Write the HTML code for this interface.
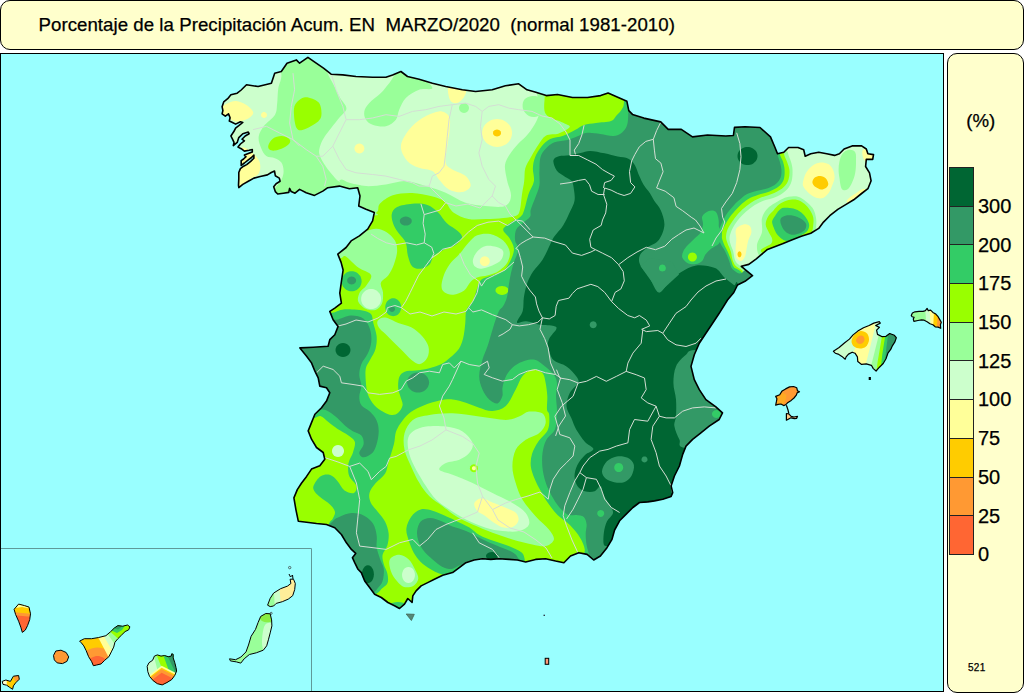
<!DOCTYPE html>
<html><head><meta charset="utf-8"><title>Mapa</title>
<style>
html,body{margin:0;padding:0;background:#fff;}
body{width:1024px;height:693px;overflow:hidden;position:relative;font-family:"Liberation Sans",sans-serif;color:#000;-webkit-text-stroke:0.25px #000;}
.box{position:absolute;box-sizing:border-box;background:#FFFFCC;border:1px solid #000;border-radius:10px;}
#title{left:0;top:0;width:1024px;height:50px;}
#title span{position:absolute;left:37.5px;top:13px;font-size:18.67px;line-height:21px;white-space:pre;letter-spacing:0.04px;}
#legend{left:947px;top:53px;width:77px;height:640px;}
#map{position:absolute;left:0;top:53px;width:944px;height:639px;box-sizing:border-box;border:1px solid #000;background:#99FFFF;overflow:hidden;}
#map svg{position:absolute;left:-1px;top:-54px;}
.lab{position:absolute;left:978px;font-size:20px;line-height:20px;}
#pct{position:absolute;left:966.3px;top:109.8px;font-size:18.67px;line-height:21px;}
#num{position:absolute;left:968px;top:662px;font-size:10px;line-height:12px;letter-spacing:0.3px;}
.sw{position:absolute;left:949px;width:25px;box-sizing:border-box;border:1px solid #222;border-bottom:none;}
</style></head><body>

<div class="box" id="title"><span>Porcentaje de la Precipitación Acum. EN  MARZO/2020  (normal 1981-2010)</span></div>
<div id="map"><svg width="1024" height="693" viewBox="0 0 1024 693">
<defs><clipPath id="sp"><path d="M246.5,84.8 L258.1,86.5 L271.4,83.2 L274.7,73.2 L281.3,71.5 L287.0,63.2 L296.3,59.9 L299.6,63.2 L307.9,57.3 L316.2,63.2 L323.5,68.2 L331.1,74.2 L342.8,74.9 L356.0,76.5 L372.6,77.2 L385.9,77.2 L392.6,74.9 L400.9,71.5 L407.5,76.5 L419.1,79.2 L432.4,83.2 L445.7,86.5 L462.3,89.8 L475.6,91.5 L492.2,89.8 L505.4,85.8 L518.7,83.8 L527.0,89.8 L535.0,91.9 L546.3,95.6 L557.5,94.5 L572.5,97.5 L587.5,97.5 L600.6,95.6 L608.1,93.0 L618.3,97.5 L626.9,101.3 L628.8,110.6 L632.5,114.4 L643.8,118.1 L660.7,121.9 L668.2,129.4 L681.3,129.4 L692.5,136.9 L707.5,135.0 L725.8,136.0 L733.4,135.5 L734.5,127.4 L745.0,126.8 L760.0,127.5 L770.5,136.9 L775.0,147.5 L777.5,153.8 L783.8,152.2 L788.6,147.5 L798.0,147.5 L803.7,149.8 L805.2,156.2 L810.8,153.8 L818.7,152.2 L826.7,153.8 L834.6,155.4 L839.4,153.8 L844.1,149.0 L852.1,145.9 L861.6,145.9 L866.3,149.0 L867.9,153.8 L873.5,154.6 L872.7,159.4 L866.3,159.4 L865.6,166.5 L869.5,172.9 L871.1,180.8 L867.9,188.7 L861.6,193.5 L853.7,199.8 L845.7,204.6 L837.8,209.4 L829.8,215.7 L823.5,222.1 L818.7,228.4 L810.8,233.2 L801.3,236.3 L791.7,240.0 L782.5,243.8 L767.5,249.4 L756.3,258.8 L748.8,264.4 L741.3,266.3 L752.5,275.7 L745.0,281.3 L737.5,285.0 L733.8,292.5 L727.5,300.0 L719.2,313.3 L712.6,323.2 L705.9,333.2 L699.3,343.2 L694.3,354.8 L691.0,366.4 L694.3,379.7 L699.3,389.6 L705.9,399.6 L715.9,406.9 L722.5,412.9 L719.2,419.5 L709.2,426.2 L700.9,432.8 L692.6,439.4 L686.0,446.1 L682.7,454.4 L679.4,466.0 L674.4,476.0 L671.1,485.9 L672.7,492.6 L671.1,496.5 L662.8,499.2 L654.5,500.9 L647.8,501.9 L639.5,502.5 L632.9,507.5 L626.2,514.1 L619.6,520.8 L614.6,530.0 L612.0,539.4 L607.0,547.7 L600.4,556.0 L593.7,560.0 L587.1,554.4 L578.8,552.7 L570.5,556.0 L563.9,562.7 L555.6,561.0 L545.6,558.7 L535.6,559.4 L525.7,562.0 L517.4,560.0 L509.1,559.4 L499.1,558.7 L490.8,559.4 L482.5,558.7 L474.2,560.0 L465.9,562.7 L459.3,567.7 L452.6,572.6 L442.7,575.3 L434.4,579.3 L427.7,582.6 L421.1,585.9 L416.1,590.9 L412.8,595.9 L412.1,602.5 L407.8,598.5 L404.5,604.2 L399.5,608.5 L394.5,605.8 L387.9,602.5 L381.3,597.5 L374.6,594.2 L369.6,587.6 L364.7,581.0 L361.3,572.6 L358.0,569.3 L354.7,562.7 L352.4,557.7 L355.7,553.4 L351.4,549.4 L346.4,542.8 L341.4,534.5 L334.8,527.8 L326.5,524.5 L316.5,523.5 L306.6,522.2 L298.3,521.2 L295.9,509.6 L293.9,497.9 L297.3,489.6 L301.6,483.0 L306.6,476.4 L311.5,469.1 L319.8,465.8 L324.8,459.2 L323.2,452.5 L316.5,447.5 L311.5,439.2 L308.2,430.9 L311.5,422.6 L314.9,414.3 L321.5,407.7 L326.5,401.1 L329.8,392.8 L326.5,387.8 L319.8,386.1 L318.2,377.8 L314.9,371.2 L311.5,362.9 L306.6,356.2 L299.9,347.9 L313.2,347.3 L328.1,346.3 L329.8,339.6 L334.8,334.7 L338.1,326.4 L333.1,319.7 L329.8,311.4 L334.8,308.1 L341.4,303.1 L339.8,293.2 L341.4,281.5 L343.1,270.0 L341.1,262.4 L337.8,254.1 L346.1,247.5 L351.1,240.9 L359.4,235.9 L367.7,229.2 L372.6,220.9 L374.3,212.6 L366.0,209.3 L358.7,206.0 L360.0,196.0 L357.7,187.7 L349.4,188.7 L339.4,186.1 L327.8,187.7 L322.8,191.1 L314.5,195.4 L306.2,192.7 L299.6,189.4 L295.0,193.2 L291.2,191.6 L289.6,188.4 L288.8,192.4 L283.3,193.2 L277.7,194.0 L275.3,191.6 L273.7,186.8 L276.1,183.7 L280.1,181.3 L279.3,178.1 L275.3,175.7 L274.5,171.0 L271.3,172.5 L267.4,174.9 L260.2,176.5 L253.9,178.1 L248.3,181.3 L242.8,184.4 L238.8,187.6 L238.5,185.2 L238.8,178.9 L238.8,172.5 L240.4,168.6 L243.6,166.2 L246.7,164.6 L250.7,161.4 L253.9,158.3 L253.9,155.1 L251.5,157.5 L248.3,159.8 L244.4,163.0 L241.2,165.4 L241.2,160.6 L243.6,159.0 L246.0,156.7 L244.4,155.1 L248.3,153.5 L252.3,151.9 L252.3,149.5 L249.1,150.3 L244.4,151.1 L241.2,148.7 L238.0,147.1 L240.4,144.0 L244.4,140.8 L242.0,139.2 L245.2,136.0 L249.1,133.7 L248.3,132.1 L242.8,133.7 L238.8,137.6 L237.2,142.4 L233.3,145.6 L234.0,142.4 L232.5,139.2 L230.9,136.0 L234.0,131.3 L235.6,128.1 L238.8,125.7 L242.8,122.5 L240.4,121.7 L235.6,124.1 L232.5,122.5 L229.3,121.0 L230.1,117.8 L228.5,113.8 L225.3,116.2 L222.1,113.8 L222.9,110.6 L222.1,106.7 L223.7,101.9 L227.7,98.7 L230.9,94.8 L237.2,93.2 L241.2,90.0Z"/></clipPath></defs>
<g clip-path="url(#sp)">
<rect x="200" y="50" width="700" height="570" fill="#33CC66"/>
<path d="M624.0,60.0 C624.0,68.3 624.3,91.8 624.0,100.0 C623.7,108.2 623.2,106.4 622.0,109.0 C620.8,111.6 618.3,113.5 616.5,115.5 C614.7,117.5 614.4,119.8 611.0,121.0 C607.6,122.2 600.5,122.3 596.0,123.0 C591.5,123.7 587.5,123.8 584.0,125.0 C580.5,126.2 578.5,128.2 575.0,130.0 C571.5,131.8 567.3,134.3 563.2,135.8 C559.1,137.3 553.8,137.2 550.2,139.0 C546.6,140.8 544.0,143.5 541.5,146.6 C539.0,149.7 536.4,153.8 535.0,157.4 C533.6,161.0 533.1,164.2 532.9,168.2 C532.7,172.2 534.6,176.9 533.9,181.2 C533.2,185.5 530.1,189.4 528.5,194.2 C526.9,199.0 525.5,206.2 524.2,210.0 C522.9,213.8 522.9,214.6 520.5,216.8 C518.1,219.0 512.6,221.1 509.7,223.3 C506.8,225.5 503.2,227.3 503.2,229.8 C503.2,232.3 507.9,235.2 509.7,238.4 C511.5,241.7 514.0,245.3 514.0,249.3 C514.0,253.3 511.5,258.7 509.7,262.3 C507.9,265.9 506.1,268.8 503.2,270.9 C500.3,273.0 495.9,273.8 492.3,275.2 C488.7,276.6 484.0,277.4 481.5,279.6 C479.0,281.8 478.6,284.6 477.2,288.2 C475.8,291.8 474.7,297.6 472.9,301.2 C471.1,304.8 467.7,306.3 466.4,309.9 C465.1,313.5 465.8,318.3 465.3,323.0 C464.8,327.7 464.3,333.8 463.2,338.1 C462.1,342.4 461.0,345.8 458.8,349.0 C456.6,352.2 453.1,355.1 450.2,357.6 C447.3,360.1 445.1,362.3 441.5,364.1 C437.9,365.9 432.8,367.3 428.5,368.4 C424.2,369.5 419.5,370.1 415.5,370.6 C411.5,371.2 407.4,370.6 404.7,371.7 C402.0,372.8 400.4,374.4 399.3,377.1 C398.2,379.8 398.0,384.6 398.2,387.9 C398.4,391.1 399.7,393.7 400.4,396.6 C401.1,399.5 403.0,402.5 402.6,405.2 C402.2,407.9 400.0,411.2 398.2,412.8 C396.4,414.4 394.2,415.2 391.7,415.0 C389.2,414.8 386.0,413.3 383.1,411.7 C380.2,410.1 376.9,408.1 374.4,405.2 C371.9,402.3 369.3,398.4 367.9,394.4 C366.5,390.4 366.1,385.7 365.8,381.4 C365.5,377.1 365.1,372.0 365.8,368.4 C366.5,364.8 368.5,363.0 370.1,359.8 C371.7,356.6 374.4,353.0 375.5,349.0 C376.6,345.0 377.0,340.3 376.6,336.0 C376.2,331.7 374.2,326.7 373.3,323.0 C372.4,319.3 372.8,316.1 371.0,314.0 C369.2,311.9 365.7,311.3 362.5,310.5 C359.3,309.7 355.2,309.5 351.6,309.4 C348.0,309.3 344.4,309.3 340.8,309.9 C337.2,310.5 336.8,312.5 330.0,313.0 C323.2,313.5 321.7,313.0 300.0,313.0 C278.3,313.0 216.7,356.8 200.0,313.0 C183.3,269.2 129.3,93.8 200.0,50.0 C270.7,6.2 553.3,48.3 624.0,50.0 C694.7,51.7 624.0,51.7 624.0,60.0Z" fill="#99FF00"/>
<path d="M393.9,444.2 C395.2,439.1 394.7,435.2 396.1,431.2 C397.6,427.2 400.1,423.6 402.6,420.4 C405.1,417.1 407.6,414.2 411.2,411.7 C414.8,409.2 419.5,407.1 424.2,405.2 C428.9,403.3 434.7,401.5 439.4,400.5 C444.1,399.5 448.2,399.0 452.6,399.4 C457.0,399.8 461.5,401.3 465.9,402.7 C470.3,404.1 474.8,406.3 479.2,407.7 C483.6,409.1 488.1,411.3 492.5,411.0 C496.9,410.7 501.9,409.6 505.8,406.0 C509.7,402.4 512.9,394.4 515.7,389.4 C518.5,384.4 519.6,379.5 522.4,376.2 C525.2,372.9 529.0,370.1 532.3,369.5 C535.6,368.9 540.1,370.6 542.3,372.8 C544.5,375.0 544.8,378.9 545.6,382.8 C546.4,386.7 547.1,391.7 547.3,396.1 C547.5,400.5 546.7,406.3 547.0,409.4 C547.3,412.5 549.0,411.4 549.2,414.7 C549.4,418.0 549.8,424.9 548.0,429.4 C546.2,433.9 540.9,437.6 538.2,441.7 C535.5,445.8 533.2,449.9 532.0,454.0 C530.8,458.1 530.4,462.2 530.8,466.3 C531.2,470.4 532.9,474.4 534.5,478.5 C536.1,482.6 538.4,486.7 540.6,490.8 C542.9,494.9 545.1,499.0 548.0,503.1 C550.9,507.2 554.1,511.6 557.8,515.3 C561.5,519.0 566.4,521.5 570.1,525.2 C573.8,528.9 577.5,533.3 579.9,537.4 C582.3,541.5 584.4,545.9 584.8,549.7 C585.1,553.5 582.5,555.8 582.0,560.0 C581.5,564.2 591.5,572.5 582.0,575.0 C572.5,577.5 534.5,577.6 525.0,575.0 C515.5,572.4 525.4,563.3 524.7,559.5 C524.0,555.7 523.7,554.4 521.0,552.1 C518.3,549.9 513.2,547.8 508.7,546.0 C504.2,544.2 498.9,542.9 494.0,541.1 C489.1,539.3 483.4,537.2 479.3,535.0 C475.2,532.8 473.5,530.1 469.4,527.6 C465.3,525.1 458.8,522.2 454.7,520.2 C450.6,518.2 448.2,517.1 444.5,515.5 C440.8,513.9 436.6,511.7 432.6,510.7 C428.6,509.7 424.3,508.5 420.7,509.5 C417.1,510.5 413.6,513.5 411.2,516.7 C408.8,519.9 406.8,524.6 406.4,528.6 C406.0,532.6 407.6,536.5 408.8,540.5 C410.0,544.5 411.6,548.8 413.6,552.4 C415.6,556.0 417.9,559.1 420.7,561.9 C423.5,564.7 427.0,567.0 430.2,569.0 C433.4,571.0 436.6,572.6 439.8,573.8 C443.0,575.0 447.3,574.8 449.3,576.2 C451.3,577.6 453.6,577.2 452.0,582.0 C450.4,586.8 448.7,597.8 440.0,605.0 C431.3,612.2 410.7,625.8 400.0,625.0 C389.3,624.2 379.3,605.8 376.0,600.0 C372.7,594.2 378.3,593.3 380.2,590.5 C382.1,587.7 386.2,586.1 387.4,583.3 C388.6,580.5 388.0,577.0 387.4,573.8 C386.8,570.6 384.6,567.5 383.8,564.3 C383.0,561.1 382.0,558.0 382.6,554.8 C383.2,551.6 386.4,548.8 387.4,545.2 C388.4,541.6 389.0,537.3 388.6,533.3 C388.2,529.3 386.8,525.0 385.0,521.4 C383.2,517.8 380.3,515.1 377.9,511.9 C375.5,508.7 372.1,505.6 370.7,502.4 C369.3,499.2 368.7,496.1 369.5,492.9 C370.3,489.7 372.9,486.5 375.5,483.3 C378.1,480.1 382.8,477.4 385.0,473.8 C387.2,470.2 387.0,466.8 388.5,461.9 C390.0,457.0 392.6,449.3 393.9,444.2Z" fill="#99FF00"/>
<path d="M311.6,418.2 C315.0,419.6 317.4,415.4 320.3,416.1 C323.2,416.8 326.1,420.5 329.0,422.6 C331.9,424.8 334.4,426.9 337.6,429.0 C340.8,431.1 345.5,433.3 348.4,435.5 C351.3,437.7 354.2,439.1 354.9,442.0 C355.6,444.9 353.7,449.9 352.8,452.9 C351.9,455.9 350.3,457.7 349.5,460.0 C348.7,462.3 348.1,464.0 348.1,466.7 C348.1,469.4 347.9,473.0 349.3,476.2 C350.7,479.4 355.6,482.9 356.4,485.7 C357.2,488.5 356.0,492.1 354.0,492.9 C352.0,493.7 347.3,492.5 344.5,490.5 C341.7,488.5 339.8,483.6 337.4,481.0 C335.0,478.4 333.0,475.8 330.2,475.0 C327.4,474.2 323.5,474.4 320.7,476.2 C317.9,478.0 314.6,483.1 313.6,485.7 C312.6,488.3 313.6,489.7 314.8,491.7 C316.0,493.7 318.1,495.4 320.7,497.6 C323.3,499.8 327.8,502.4 330.2,504.8 C332.6,507.2 334.6,509.5 335.0,511.9 C335.4,514.3 333.6,517.0 332.6,519.0 C331.6,521.0 330.8,519.5 329.0,523.8 C327.2,528.1 330.2,543.1 322.0,545.0 C313.8,546.9 287.0,555.8 280.0,535.0 C273.0,514.2 276.7,441.2 280.0,420.0 C283.3,398.8 294.7,408.3 300.0,408.0 C305.3,407.7 308.2,416.8 311.6,418.2Z" fill="#99FF00"/>
<path d="M779.8,140.0 C759.8,142.3 779.3,150.2 779.8,153.8 C780.3,157.4 782.2,159.0 783.0,161.7 C783.8,164.3 784.5,166.8 784.6,169.7 C784.7,172.6 784.7,176.4 783.8,179.2 C782.9,182.0 781.4,184.2 779.0,186.3 C776.6,188.4 773.0,190.0 769.5,191.5 C766.0,193.0 761.3,193.8 757.8,195.1 C754.3,196.3 751.1,197.4 748.3,199.0 C745.5,200.6 743.4,202.6 741.1,204.6 C738.9,206.6 736.8,208.8 734.8,211.0 C732.8,213.2 731.1,215.3 729.2,218.1 C727.4,220.9 725.0,224.7 723.7,227.6 C722.4,230.5 721.6,232.9 721.6,235.6 C721.6,238.2 722.7,240.9 723.7,243.5 C724.7,246.1 726.4,248.8 727.6,251.4 C728.8,254.1 729.7,256.8 730.8,259.4 C731.9,262.0 732.3,265.2 734.0,267.3 C735.7,269.4 736.8,268.0 741.1,271.8 C745.4,275.6 733.5,288.6 760.0,290.0 C786.5,291.4 876.7,305.0 900.0,280.0 C923.3,255.0 920.0,163.3 900.0,140.0 C880.0,116.7 799.8,137.7 779.8,140.0Z" fill="#99FF00"/>
<path d="M508.5,290.4 C508.5,291.1 508.2,292.0 507.6,292.6 C507.1,293.3 506.2,293.9 505.2,294.3 C504.3,294.7 503.1,294.9 502.0,294.9 C500.9,294.9 499.7,294.7 498.8,294.3 C497.8,293.9 496.9,293.3 496.4,292.6 C495.8,292.0 495.5,291.1 495.5,290.4 C495.5,289.6 495.8,288.8 496.4,288.1 C496.9,287.5 497.8,286.9 498.8,286.5 C499.7,286.1 500.9,285.9 502.0,285.9 C503.1,285.9 504.3,286.1 505.2,286.5 C506.2,286.9 507.1,287.5 507.6,288.1 C508.2,288.8 508.5,289.6 508.5,290.4Z" fill="#99FF00"/>
<path d="M544.8,60.0 C544.9,67.1 544.6,83.5 544.8,92.5 C545.0,101.5 542.7,109.0 545.8,114.1 C548.9,119.1 559.2,120.6 563.2,122.8 C567.2,125.0 570.4,125.3 569.7,127.1 C569.0,128.9 562.8,132.1 558.8,133.6 C554.8,135.1 549.4,133.6 545.8,135.8 C542.2,138.0 539.7,143.0 537.2,146.6 C534.7,150.2 532.7,153.8 530.7,157.4 C528.7,161.0 526.4,164.2 525.3,168.2 C524.2,172.2 524.8,176.9 524.2,181.2 C523.7,185.5 522.7,189.4 522.0,194.2 C521.3,199.0 520.9,206.4 519.9,210.0 C518.9,213.6 518.9,214.4 516.1,215.7 C513.3,217.0 508.2,217.3 503.2,217.9 C498.1,218.5 491.6,218.8 485.8,219.0 C480.0,219.2 473.9,220.1 468.5,219.0 C463.1,217.9 457.4,215.4 453.4,212.5 C449.4,209.6 448.3,204.3 444.7,201.6 C441.1,198.9 437.1,197.6 431.7,196.2 C426.3,194.8 418.8,193.2 412.3,193.0 C405.8,192.8 398.2,193.4 392.8,195.2 C387.4,197.0 382.5,200.9 379.8,203.8 C377.1,206.7 379.8,210.5 376.5,212.5 C373.2,214.5 389.4,215.4 360.0,216.0 C330.6,216.6 226.7,243.7 200.0,216.0 C173.3,188.3 142.7,77.7 200.0,50.0 C257.3,22.3 486.5,48.3 544.0,50.0 C601.5,51.7 544.7,52.9 544.8,60.0Z" fill="#99FF99"/>
<path d="M348.0,236.0 C353.4,232.8 360.9,232.1 365.7,230.9 C370.4,229.7 373.1,228.5 376.5,228.7 C379.9,228.9 383.2,230.0 386.3,232.0 C389.4,234.0 393.1,237.4 394.9,240.6 C396.7,243.8 397.3,247.4 397.1,251.4 C396.9,255.4 395.3,260.4 393.9,264.4 C392.4,268.4 390.6,272.1 388.4,275.2 C386.2,278.3 381.8,279.9 380.9,282.8 C380.0,285.7 382.8,289.2 383.0,292.6 C383.2,296.0 383.2,300.5 382.0,303.4 C380.8,306.3 378.2,309.0 375.5,309.9 C372.8,310.8 368.6,310.2 365.7,308.8 C362.8,307.4 359.1,304.0 358.1,301.2 C357.2,298.4 358.7,294.5 360.0,292.0 C361.3,289.5 364.1,288.8 366.0,286.0 C367.9,283.2 372.3,278.2 371.1,275.2 C369.9,272.2 362.2,270.2 359.0,268.0 C355.8,265.8 354.3,264.0 352.0,262.0 C349.7,260.0 347.0,256.7 345.0,256.0 C343.0,255.3 342.0,259.0 340.0,258.0 C338.0,257.0 331.7,253.7 333.0,250.0 C334.3,246.3 342.6,239.2 348.0,236.0Z" fill="#99FF99"/>
<path d="M441.5,286.1 C441.5,282.9 443.1,277.1 444.7,273.1 C446.3,269.1 448.7,265.6 451.2,262.3 C453.7,259.1 457.0,256.9 459.9,253.6 C462.8,250.3 465.6,245.9 468.5,242.8 C471.4,239.7 473.6,236.6 477.2,235.2 C480.8,233.8 485.9,233.2 490.2,234.1 C494.5,235.0 499.9,237.7 503.2,240.6 C506.4,243.5 509.0,247.8 509.7,251.4 C510.4,255.0 509.3,259.1 507.5,262.3 C505.7,265.6 502.1,268.8 498.8,270.9 C495.6,273.0 491.6,274.1 488.0,275.2 C484.4,276.3 480.1,276.3 477.2,277.4 C474.3,278.5 472.9,279.5 470.7,281.7 C468.5,283.9 467.1,288.2 464.2,290.4 C461.3,292.6 456.6,294.3 453.4,294.7 C450.1,295.1 446.7,294.0 444.7,292.6 C442.7,291.2 441.5,289.4 441.5,286.1Z" fill="#99FF99"/>
<path d="M377.7,320.8 C378.8,319.2 381.8,317.2 385.2,317.6 C388.6,318.0 393.9,321.4 398.2,323.0 C402.5,324.6 407.2,325.1 411.2,327.3 C415.2,329.5 419.1,332.8 422.0,336.0 C424.9,339.2 427.6,343.2 428.5,346.8 C429.4,350.4 428.8,354.7 427.4,357.6 C426.0,360.5 422.6,363.7 419.9,364.1 C417.2,364.5 414.1,362.0 411.2,359.8 C408.3,357.6 405.5,354.0 402.6,351.1 C399.7,348.2 396.8,345.4 393.9,342.5 C391.0,339.6 387.7,336.3 385.2,333.8 C382.7,331.3 379.9,329.5 378.7,327.3 C377.4,325.1 376.6,322.4 377.7,320.8Z" fill="#99FF99"/>
<path d="M404.5,433.2 C405.9,428.2 408.7,422.9 412.8,419.9 C416.9,416.8 422.8,416.0 429.4,414.9 C436.0,413.8 444.3,413.0 452.6,413.3 C460.9,413.6 470.3,415.5 479.2,416.6 C488.1,417.7 499.2,419.9 505.8,419.9 C512.4,419.9 515.1,418.0 519.0,416.6 C522.9,415.2 525.1,412.2 529.0,411.6 C532.9,411.1 539.5,411.4 542.3,413.3 C545.1,415.2 546.1,419.9 545.6,423.2 C545.1,426.5 542.3,430.4 539.0,433.2 C535.7,436.0 529.6,437.0 525.7,439.8 C521.8,442.6 517.9,445.4 515.7,449.8 C513.5,454.2 512.4,460.9 512.4,466.4 C512.4,471.9 514.0,477.5 515.7,483.0 C517.4,488.5 519.1,494.1 522.4,499.6 C525.7,505.1 531.2,511.2 535.6,516.2 C540.0,521.2 545.9,525.6 548.9,529.5 C551.9,533.4 554.4,536.6 553.9,539.4 C553.4,542.2 549.2,545.3 545.6,546.1 C542.0,546.9 537.8,545.5 532.3,544.4 C526.8,543.3 519.0,541.3 512.4,539.4 C505.8,537.5 499.1,535.3 492.5,532.8 C485.9,530.3 478.7,527.3 472.6,524.5 C466.5,521.7 461.0,519.2 456.0,516.2 C451.0,513.2 447.1,509.5 442.7,506.2 C438.3,502.9 433.3,500.2 429.4,496.3 C425.5,492.4 422.4,488.0 419.4,483.0 C416.3,478.0 413.6,471.9 411.1,466.4 C408.6,460.9 405.6,455.3 404.5,449.8 C403.4,444.3 403.1,438.2 404.5,433.2Z" fill="#99FF99"/>
<path d="M783.8,140.0 C764.4,142.2 783.3,149.4 783.8,153.0 C784.3,156.6 786.1,158.9 787.0,161.7 C787.9,164.5 789.1,166.8 789.4,169.7 C789.7,172.6 789.5,176.3 788.6,179.2 C787.7,182.1 786.2,184.8 783.8,187.1 C781.4,189.4 778.4,191.1 774.3,193.0 C770.2,194.9 763.3,196.6 759.4,198.3 C755.5,200.0 753.2,201.3 750.6,203.0 C748.0,204.7 745.6,206.8 743.5,208.6 C741.4,210.4 739.8,212.0 737.9,214.1 C736.0,216.2 734.1,218.8 732.4,221.3 C730.7,223.8 728.7,226.6 727.6,229.2 C726.5,231.8 726.0,234.7 726.0,237.1 C726.0,239.5 726.8,241.1 727.6,243.5 C728.4,245.9 730.0,248.8 730.8,251.4 C731.6,254.1 731.6,257.0 732.4,259.4 C733.2,261.8 734.0,263.9 735.6,265.7 C737.2,267.5 737.8,267.0 741.9,270.2 C746.0,273.4 733.6,284.2 760.0,285.0 C786.4,285.8 876.7,299.2 900.0,275.0 C923.3,250.8 919.4,162.5 900.0,140.0 C880.6,117.5 803.2,137.8 783.8,140.0Z" fill="#99FF99"/>
<path d="M537.0,60.0 C537.2,67.0 536.7,85.3 537.0,92.0 C537.3,98.7 538.5,97.0 539.0,100.0 C539.5,103.0 540.5,106.3 540.0,110.0 C539.5,113.7 538.0,118.0 536.0,122.0 C534.0,126.0 531.0,130.3 528.0,134.0 C525.0,137.7 521.0,140.7 518.0,144.0 C515.0,147.3 512.2,150.5 510.0,154.0 C507.8,157.5 505.5,160.7 505.0,165.0 C504.5,169.3 506.0,174.8 507.0,180.0 C508.0,185.2 511.3,191.7 511.0,196.0 C510.7,200.3 509.2,204.3 505.0,206.0 C500.8,207.7 492.1,206.6 485.5,206.0 C478.9,205.4 472.2,204.9 465.6,202.7 C459.0,200.5 452.3,195.5 445.7,192.7 C439.1,189.9 432.4,188.0 425.8,186.1 C419.2,184.2 412.5,181.4 405.8,181.1 C399.1,180.8 392.5,183.6 385.9,184.4 C379.3,185.2 372.1,186.4 366.0,186.1 C359.9,185.8 353.7,183.8 349.4,182.8 C345.1,181.8 343.2,178.0 340.0,180.0 C336.8,182.0 353.3,192.5 330.0,195.0 C306.7,197.5 221.7,219.2 200.0,195.0 C178.3,170.8 144.0,74.2 200.0,50.0 C256.0,25.8 479.8,48.3 536.0,50.0 C592.2,51.7 536.8,53.0 537.0,60.0Z" fill="#CCFFCC"/>
<path d="M381.1,299.0 C381.1,300.7 380.6,302.6 379.8,304.0 C378.9,305.4 377.5,306.8 376.1,307.7 C374.7,308.5 372.8,309.0 371.1,309.0 C369.4,309.0 367.5,308.5 366.1,307.7 C364.7,306.8 363.3,305.4 362.4,304.0 C361.6,302.6 361.1,300.7 361.1,299.0 C361.1,297.3 361.6,295.4 362.4,294.0 C363.3,292.6 364.7,291.2 366.1,290.3 C367.5,289.5 369.4,289.0 371.1,289.0 C372.8,289.0 374.7,289.5 376.1,290.3 C377.5,291.2 378.9,292.6 379.8,294.0 C380.6,295.4 381.1,297.3 381.1,299.0Z" fill="#CCFFCC"/>
<path d="M472.9,260.1 C473.3,257.6 475.0,253.8 477.2,251.4 C479.4,249.1 482.6,246.7 485.8,246.0 C489.1,245.3 493.8,246.2 496.7,247.1 C499.6,248.0 502.5,249.2 503.2,251.4 C503.9,253.6 502.8,257.8 501.0,260.1 C499.2,262.5 495.6,264.1 492.3,265.5 C489.1,266.9 484.4,268.5 481.5,268.7 C478.6,268.9 476.4,268.0 475.0,266.6 C473.6,265.2 472.5,262.6 472.9,260.1Z" fill="#CCFFCC"/>
<path d="M407.8,439.8 C408.4,435.9 409.8,433.7 412.8,431.5 C415.9,429.3 420.6,427.4 426.1,426.6 C431.6,425.8 439.9,425.8 446.0,426.6 C452.1,427.4 458.2,428.7 462.6,431.5 C467.0,434.3 471.5,439.6 472.6,443.2 C473.7,446.8 471.4,450.3 469.2,453.1 C467.0,455.9 463.2,458.1 459.3,459.8 C455.4,461.5 449.3,461.5 446.0,463.1 C442.7,464.8 438.3,467.8 439.4,469.7 C440.5,471.6 447.1,472.5 452.6,474.7 C458.1,476.9 466.0,479.9 472.6,483.0 C479.2,486.1 485.9,489.7 492.5,493.0 C499.1,496.3 506.9,499.6 512.4,502.9 C517.9,506.2 522.9,509.3 525.7,512.9 C528.5,516.5 530.1,521.5 529.0,524.5 C527.9,527.5 523.4,530.0 519.0,531.1 C514.6,532.2 507.9,531.7 502.4,531.1 C496.9,530.5 491.9,529.7 485.8,527.8 C479.7,525.9 472.0,522.5 465.9,519.5 C459.8,516.5 454.3,512.9 449.3,509.6 C444.3,506.3 439.9,503.5 436.0,499.6 C432.1,495.7 429.4,491.3 426.1,486.3 C422.8,481.3 418.9,474.9 416.1,469.7 C413.3,464.4 410.9,459.8 409.5,454.8 C408.1,449.8 407.2,443.7 407.8,439.8Z" fill="#CCFFCC"/>
<path d="M787.8,140.0 C769.1,142.0 787.3,148.6 787.8,152.2 C788.3,155.8 790.2,158.8 791.0,161.7 C791.8,164.6 792.4,166.5 792.5,169.7 C792.6,172.9 792.6,177.5 791.7,180.8 C790.8,184.1 789.4,186.9 787.0,189.5 C784.6,192.1 781.7,194.2 777.5,196.2 C773.3,198.2 765.8,199.7 761.7,201.4 C757.6,203.1 755.6,204.5 753.0,206.2 C750.4,207.9 748.0,209.8 745.9,211.7 C743.8,213.5 742.1,215.2 740.3,217.3 C738.4,219.4 736.4,221.9 734.8,224.4 C733.2,226.9 731.7,230.0 730.8,232.4 C729.9,234.8 729.5,236.6 729.5,238.7 C729.5,240.8 730.2,243.0 730.8,245.1 C731.4,247.2 732.5,249.0 733.2,251.4 C733.9,253.8 734.0,257.3 734.8,259.4 C735.6,261.5 736.4,262.7 737.9,264.1 C739.4,265.5 739.8,265.4 743.5,268.0 C747.2,270.6 733.9,279.7 760.0,280.0 C786.1,280.3 876.7,293.3 900.0,270.0 C923.3,246.7 918.7,161.7 900.0,140.0 C881.3,118.3 806.5,138.0 787.8,140.0Z" fill="#CCFFCC"/>
<path d="M281.4,55.0 C274.6,58.5 281.9,70.3 281.4,76.0 C280.9,81.7 278.9,84.3 278.2,89.0 C277.5,93.7 277.7,99.8 277.1,104.1 C276.6,108.4 277.1,111.3 274.9,114.9 C272.7,118.5 266.8,122.2 264.1,125.8 C261.4,129.4 259.2,133.0 258.7,136.6 C258.2,140.2 259.6,144.2 260.9,147.4 C262.2,150.7 264.0,154.3 266.3,156.1 C268.6,157.9 272.4,157.1 274.9,158.2 C277.4,159.3 279.9,160.4 281.4,162.6 C282.8,164.8 283.6,168.3 283.6,171.2 C283.6,174.1 282.8,177.0 281.4,179.9 C279.9,182.8 276.5,185.2 274.9,188.5 C273.3,191.8 257.8,198.1 272.0,200.0 C286.2,201.9 345.1,202.3 360.0,200.0 C374.9,197.7 363.1,189.0 361.5,186.4 C359.9,183.8 354.3,184.9 350.7,184.2 C347.1,183.5 343.1,183.8 339.9,182.0 C336.6,180.2 333.7,176.3 331.2,173.4 C328.7,170.5 326.7,167.9 324.7,164.7 C322.7,161.4 320.0,157.2 319.3,153.9 C318.6,150.7 319.5,148.1 320.4,145.2 C321.3,142.3 322.9,139.5 324.7,136.6 C326.5,133.7 328.7,131.2 331.2,127.9 C333.7,124.7 337.4,120.3 339.9,117.1 C342.4,113.8 346.4,111.7 346.4,108.4 C346.4,105.2 342.1,101.6 339.9,97.6 C337.7,93.6 335.6,88.9 333.4,84.6 C331.2,80.3 328.8,76.5 326.9,71.6 C325.0,66.7 329.6,57.8 322.0,55.0 C314.4,52.2 288.2,51.5 281.4,55.0Z" fill="#99FF99"/>
<path d="M364.3,111.4 C364.9,108.6 366.5,106.1 369.3,103.1 C372.1,100.0 377.6,96.4 380.9,93.1 C384.2,89.8 386.1,86.7 389.2,83.2 C392.2,79.7 394.2,73.2 399.2,72.0 C404.2,70.8 413.6,73.3 419.1,76.0 C424.6,78.7 432.4,85.8 432.4,88.1 C432.4,90.4 423.5,88.1 419.1,89.8 C414.7,91.5 409.1,94.8 405.8,98.1 C402.5,101.4 400.9,106.1 399.2,109.7 C397.5,113.3 398.1,116.9 395.9,119.7 C393.7,122.5 389.8,125.5 385.9,126.3 C382.0,127.1 375.9,125.8 372.6,124.7 C369.3,123.6 367.4,121.9 366.0,119.7 C364.6,117.5 363.8,114.2 364.3,111.4Z" fill="#99FF99"/>
<path d="M469.0,108.0 C469.0,108.8 468.7,109.8 468.3,110.5 C467.9,111.2 467.2,111.9 466.5,112.3 C465.8,112.7 464.8,113.0 464.0,113.0 C463.2,113.0 462.2,112.7 461.5,112.3 C460.8,111.9 460.1,111.2 459.7,110.5 C459.3,109.8 459.0,108.8 459.0,108.0 C459.0,107.2 459.3,106.2 459.7,105.5 C460.1,104.8 460.8,104.1 461.5,103.7 C462.2,103.3 463.2,103.0 464.0,103.0 C464.8,103.0 465.8,103.3 466.5,103.7 C467.2,104.1 467.9,104.8 468.3,105.5 C468.7,106.2 469.0,107.2 469.0,108.0Z" fill="#99FF99"/>
<path d="M524.0,100.0 C525.5,97.8 529.3,96.3 532.0,96.0 C534.7,95.7 538.2,96.0 540.0,98.0 C541.8,100.0 543.3,105.0 543.0,108.0 C542.7,111.0 540.3,114.7 538.0,116.0 C535.7,117.3 531.5,117.2 529.0,116.0 C526.5,114.8 523.8,111.7 523.0,109.0 C522.2,106.3 522.5,102.2 524.0,100.0Z" fill="#99FF99"/>
<path d="M305.2,97.2 C309.0,96.9 315.5,99.4 318.2,102.0 C320.9,104.6 321.5,109.6 321.5,112.8 C321.5,116.0 321.3,118.6 318.2,121.4 C315.1,124.2 306.7,128.6 303.1,129.7 C299.5,130.8 298.1,130.4 296.6,127.9 C295.1,125.4 294.2,118.9 294.0,114.9 C293.8,110.9 293.6,107.0 295.5,104.1 C297.4,101.1 301.4,97.5 305.2,97.2Z" fill="#99FF00"/>
<path d="M268.4,145.2 C268.9,143.4 270.6,140.2 272.8,138.7 C275.0,137.2 278.7,136.1 281.4,136.1 C284.1,136.1 287.6,137.5 289.0,138.7 C290.4,139.9 290.6,141.6 289.7,143.1 C288.8,144.6 286.1,146.6 283.6,147.8 C281.1,149.1 277.2,150.3 274.9,150.6 C272.5,150.9 270.6,150.5 269.5,149.6 C268.4,148.7 267.8,147.0 268.4,145.2Z" fill="#99FF00"/>
<path d="M391.7,214.6 C392.2,211.5 393.7,208.9 397.1,207.1 C400.5,205.3 407.2,204.2 412.3,203.8 C417.4,203.4 423.1,203.5 427.4,204.9 C431.7,206.3 434.9,209.4 438.2,212.5 C441.4,215.6 443.6,220.2 446.9,223.3 C450.1,226.4 455.2,228.6 457.7,230.9 C460.2,233.2 462.4,235.1 462.0,237.4 C461.6,239.7 458.4,242.9 455.5,244.9 C452.6,246.9 448.3,247.5 444.7,249.3 C441.1,251.1 436.4,253.3 433.9,255.8 C431.4,258.3 431.8,262.2 429.6,264.4 C427.4,266.5 423.8,268.3 420.9,268.7 C418.0,269.1 414.5,268.8 412.3,266.6 C410.1,264.5 409.0,259.8 407.9,255.8 C406.8,251.8 407.2,246.4 405.8,242.8 C404.4,239.2 401.3,237.0 399.3,234.1 C397.3,231.2 395.2,228.8 393.9,225.5 C392.6,222.2 391.2,217.7 391.7,214.6Z" fill="#33CC66"/>
<path d="M411.8,221.1 C411.8,221.8 411.5,222.7 411.0,223.3 C410.5,224.0 409.7,224.6 408.8,225.0 C407.9,225.4 406.8,225.6 405.8,225.6 C404.8,225.6 403.7,225.4 402.8,225.0 C401.9,224.6 401.1,224.0 400.6,223.3 C400.1,222.7 399.8,221.8 399.8,221.1 C399.8,220.3 400.1,219.5 400.6,218.8 C401.1,218.2 401.9,217.6 402.8,217.2 C403.7,216.8 404.8,216.6 405.8,216.6 C406.8,216.6 407.9,216.8 408.8,217.2 C409.7,217.6 410.5,218.2 411.0,218.8 C411.5,219.5 411.8,220.3 411.8,221.1Z" fill="#339966"/>
<path d="M361.6,281.3 C361.6,283.0 361.1,284.9 360.3,286.3 C359.4,287.7 358.0,289.1 356.6,290.0 C355.2,290.8 353.3,291.3 351.6,291.3 C349.9,291.3 348.0,290.8 346.6,290.0 C345.2,289.1 343.8,287.7 342.9,286.3 C342.1,284.9 341.6,283.0 341.6,281.3 C341.6,279.6 342.1,277.7 342.9,276.3 C343.8,274.9 345.2,273.5 346.6,272.6 C348.0,271.8 349.9,271.3 351.6,271.3 C353.3,271.3 355.2,271.8 356.6,272.6 C358.0,273.5 359.4,274.9 360.3,276.3 C361.1,277.7 361.6,279.6 361.6,281.3Z" fill="#33CC66"/>
<path d="M356.1,280.5 C356.1,281.2 355.9,281.9 355.5,282.5 C355.1,283.1 354.5,283.6 353.9,284.0 C353.2,284.3 352.4,284.5 351.6,284.5 C350.9,284.5 350.0,284.3 349.4,284.0 C348.7,283.6 348.1,283.1 347.7,282.5 C347.3,281.9 347.1,281.2 347.1,280.5 C347.1,279.8 347.3,279.1 347.7,278.5 C348.1,277.9 348.7,277.4 349.4,277.0 C350.0,276.7 350.9,276.5 351.6,276.5 C352.4,276.5 353.2,276.7 353.9,277.0 C354.5,277.4 355.1,277.9 355.5,278.5 C355.9,279.1 356.1,279.8 356.1,280.5Z" fill="#339966"/>
<path d="M401.2,307.3 C401.2,308.8 400.8,310.5 400.1,311.8 C399.5,313.1 398.4,314.3 397.2,315.1 C396.0,315.8 394.5,316.3 393.2,316.3 C391.9,316.3 390.4,315.8 389.2,315.1 C388.0,314.3 386.9,313.1 386.3,311.8 C385.6,310.5 385.2,308.8 385.2,307.3 C385.2,305.8 385.6,304.1 386.3,302.8 C386.9,301.5 388.0,300.3 389.2,299.5 C390.4,298.8 391.9,298.3 393.2,298.3 C394.5,298.3 396.0,298.8 397.2,299.5 C398.4,300.3 399.5,301.5 400.1,302.8 C400.8,304.1 401.2,305.8 401.2,307.3Z" fill="#33CC66"/>
<path d="M395.0,309.0 C395.0,309.5 394.8,310.1 394.6,310.5 C394.3,310.9 393.9,311.3 393.5,311.6 C393.1,311.8 392.5,312.0 392.0,312.0 C391.5,312.0 390.9,311.8 390.5,311.6 C390.1,311.3 389.7,310.9 389.4,310.5 C389.2,310.1 389.0,309.5 389.0,309.0 C389.0,308.5 389.2,307.9 389.4,307.5 C389.7,307.1 390.1,306.7 390.5,306.4 C390.9,306.2 391.5,306.0 392.0,306.0 C392.5,306.0 393.1,306.2 393.5,306.4 C393.9,306.7 394.3,307.1 394.6,307.5 C394.8,307.9 395.0,308.5 395.0,309.0Z" fill="#339966"/>
<path d="M839.4,161.7 C840.0,159.0 840.9,155.8 842.5,153.8 C844.1,151.8 846.8,150.1 848.9,149.8 C851.0,149.5 854.0,150.2 855.2,152.2 C856.4,154.2 856.0,158.2 856.0,161.7 C856.0,165.1 855.9,169.4 855.2,172.9 C854.6,176.4 853.4,179.6 852.1,182.4 C850.8,185.2 849.0,188.4 847.3,189.5 C845.6,190.6 843.0,190.7 841.7,188.7 C840.4,186.7 839.9,180.8 839.4,177.6 C838.9,174.4 838.6,172.3 838.6,169.7 C838.6,167.0 838.8,164.3 839.4,161.7Z" fill="#99FF99"/>
<path d="M762.0,218.0 C763.0,214.0 764.9,211.0 768.0,208.0 C771.1,205.0 777.2,201.7 780.6,199.8 C784.0,197.9 785.7,197.2 788.6,196.7 C791.5,196.2 795.2,195.9 798.1,196.7 C801.0,197.5 803.6,199.6 806.0,201.4 C808.4,203.2 810.8,205.4 812.4,207.8 C814.0,210.2 815.0,213.0 815.6,215.7 C816.2,218.3 816.6,221.0 816.3,223.7 C816.0,226.4 816.7,228.8 814.0,232.0 C811.3,235.2 807.0,239.0 800.0,243.0 C793.0,247.0 778.7,253.8 772.0,256.0 C765.3,258.2 762.5,257.8 760.0,256.0 C757.5,254.2 756.7,249.0 757.0,245.0 C757.3,241.0 761.2,236.5 762.0,232.0 C762.8,227.5 761.0,222.0 762.0,218.0Z" fill="#99FF99"/>
<path d="M765.7,224.4 C765.6,221.8 766.8,218.9 768.1,216.5 C769.4,214.1 771.9,212.2 773.7,210.2 C775.5,208.2 776.8,206.2 779.0,204.6 C781.2,203.0 784.1,201.4 787.0,200.6 C789.9,199.8 793.6,199.3 796.5,199.8 C799.4,200.3 802.1,202.1 804.4,203.8 C806.6,205.5 808.5,207.9 810.0,210.2 C811.5,212.4 812.7,214.8 813.2,217.3 C813.7,219.8 813.6,222.6 813.2,225.2 C812.8,227.8 813.3,230.2 810.8,233.0 C808.3,235.8 804.0,238.5 798.0,242.0 C792.0,245.5 780.8,252.2 775.0,254.0 C769.2,255.8 765.3,253.7 763.0,253.0 C760.7,252.3 760.5,250.9 761.0,249.8 C761.5,248.8 764.0,247.8 765.7,246.7 C767.4,245.6 770.2,244.8 771.3,243.5 C772.4,242.2 772.5,240.5 772.1,238.7 C771.7,236.8 770.0,234.8 768.9,232.4 C767.8,230.0 765.8,227.1 765.7,224.4Z" fill="#99FF00"/>
<path d="M772.1,221.3 C772.4,219.3 774.1,217.5 775.2,215.7 C776.4,213.9 777.6,211.8 779.0,210.5 C780.4,209.2 781.4,208.1 783.8,207.8 C786.2,207.5 790.4,207.8 793.3,208.6 C796.2,209.4 799.0,210.8 801.3,212.5 C803.5,214.2 805.5,216.8 806.8,218.9 C808.1,221.0 809.2,223.1 809.2,225.2 C809.2,227.3 808.4,229.8 806.8,231.6 C805.2,233.4 802.2,234.7 799.7,236.3 C797.2,237.9 793.9,240.2 791.7,241.0 C789.5,241.8 788.0,241.5 786.3,241.1 C784.6,240.7 783.2,239.9 781.6,238.7 C780.0,237.5 778.1,235.8 776.8,234.0 C775.5,232.2 774.5,229.7 773.7,227.6 C772.9,225.5 771.9,223.3 772.1,221.3Z" fill="#33CC66"/>
<path d="M780.6,218.9 C781.3,217.3 783.3,216.2 785.4,215.7 C787.5,215.2 790.6,215.2 793.3,215.7 C795.9,216.2 799.2,217.6 801.3,218.9 C803.4,220.2 805.4,222.0 806.0,223.7 C806.6,225.4 806.2,227.6 805.2,229.2 C804.2,230.8 802.0,232.3 799.7,233.2 C797.5,234.1 794.1,235.1 791.7,234.8 C789.3,234.5 787.1,233.2 785.4,231.6 C783.7,230.0 782.2,227.3 781.4,225.2 C780.6,223.1 779.9,220.5 780.6,218.9Z" fill="#339966"/>
<path d="M628.4,100.0 C628.5,102.8 628.6,102.8 628.4,106.8 C628.2,110.8 628.5,119.8 627.4,124.1 C626.3,128.4 624.2,130.8 621.9,132.8 C619.5,134.8 616.9,135.8 613.3,136.0 C609.7,136.2 604.6,134.4 600.3,133.9 C596.0,133.4 591.2,132.4 587.3,132.8 C583.4,133.2 580.3,135.3 577.0,136.5 C573.7,137.7 571.2,139.0 567.5,140.0 C563.8,141.0 558.1,140.9 554.5,142.3 C550.9,143.8 548.1,146.2 545.8,148.7 C543.4,151.2 541.5,153.4 540.4,157.4 C539.3,161.4 539.6,167.9 539.4,172.6 C539.2,177.3 540.1,181.2 539.4,185.5 C538.7,189.8 536.5,194.4 535.0,198.5 C533.5,202.6 531.5,206.9 530.7,210.0 C529.9,213.1 531.4,214.6 530.0,216.8 C528.6,219.0 524.9,221.1 522.6,223.3 C520.3,225.5 517.4,226.9 516.1,229.8 C514.9,232.7 514.7,237.3 515.1,240.6 C515.5,243.8 518.5,245.7 518.3,249.3 C518.1,252.9 515.2,258.3 514.0,262.3 C512.8,266.3 511.8,269.5 511.0,273.1 C510.2,276.7 509.7,279.9 509.0,283.9 C508.3,287.9 508.0,293.2 507.0,296.9 C506.0,300.6 504.6,303.5 503.2,306.0 C501.8,308.5 500.3,308.1 498.5,312.0 C496.7,315.9 494.3,324.0 492.5,329.7 C490.7,335.4 489.2,341.3 487.5,346.3 C485.8,351.3 483.9,354.6 482.5,359.6 C481.1,364.6 479.2,371.2 479.2,376.2 C479.2,381.2 480.8,385.5 482.5,389.4 C484.2,393.3 486.7,397.1 489.2,399.4 C491.7,401.7 495.3,403.9 497.5,403.4 C499.7,402.8 501.5,398.8 502.4,396.1 C503.2,393.4 501.9,390.6 502.6,387.0 C503.3,383.4 504.7,378.3 506.7,374.8 C508.7,371.3 511.7,368.2 514.7,365.8 C517.7,363.4 521.4,361.7 524.8,360.7 C528.2,359.7 531.9,359.0 534.9,359.7 C537.9,360.4 540.5,362.8 543.0,364.7 C545.5,366.6 548.1,368.8 550.1,370.8 C552.1,372.8 554.1,374.7 555.2,376.9 C556.4,379.1 556.9,380.8 557.0,384.0 C557.1,387.2 556.0,391.3 556.0,396.1 C556.0,400.9 557.2,407.2 557.0,412.7 C556.8,418.2 556.8,424.8 555.0,429.3 C553.2,433.9 548.4,436.0 546.3,440.0 C544.2,444.0 543.1,448.4 542.5,453.1 C541.9,457.8 542.0,463.4 542.5,468.1 C543.0,472.8 544.0,477.2 545.3,481.3 C546.5,485.4 548.1,488.8 550.0,492.5 C551.9,496.2 554.4,500.7 556.6,503.8 C558.8,506.9 561.2,509.4 563.2,511.3 C565.2,513.2 566.6,514.4 568.8,515.0 C571.0,515.6 573.8,514.7 576.3,515.0 C578.8,515.3 582.1,515.3 583.8,516.9 C585.5,518.5 586.3,521.6 586.6,524.4 C586.9,527.2 585.7,530.3 585.7,533.8 C585.7,537.2 586.0,541.4 586.6,545.1 C587.2,548.9 588.7,552.5 589.4,556.3 C590.1,560.1 580.8,557.4 590.9,568.0 C601.0,578.6 618.5,644.7 650.0,620.0 C681.5,595.3 760.8,473.3 780.0,420.0 C799.2,366.7 767.5,324.0 765.0,300.0 C762.5,276.0 767.0,280.7 765.0,276.0 C763.0,271.3 756.2,273.1 753.0,272.0 C749.8,270.9 748.1,269.2 746.0,269.5 C743.9,269.8 742.6,273.6 740.3,273.5 C738.0,273.4 734.2,271.0 732.4,268.9 C730.5,266.8 730.4,263.9 729.2,261.0 C728.0,258.1 726.7,254.3 725.2,251.4 C723.8,248.5 721.7,246.4 720.5,243.5 C719.3,240.6 718.1,236.9 718.1,234.0 C718.1,231.1 719.2,229.2 720.5,226.0 C721.8,222.8 724.0,218.1 726.0,214.9 C728.0,211.7 730.3,209.4 732.4,207.0 C734.5,204.6 736.3,202.7 738.7,200.6 C741.1,198.5 743.8,195.9 746.7,194.3 C749.6,192.7 752.7,192.1 756.2,191.1 C759.7,190.1 764.6,189.4 767.9,188.2 C771.2,187.0 773.8,185.8 775.9,184.0 C778.0,182.2 779.7,180.0 780.6,177.6 C781.5,175.2 781.5,172.3 781.4,169.7 C781.3,167.0 780.4,164.3 779.8,161.7 C779.1,159.0 778.0,157.4 777.5,153.8 C777.0,150.2 776.2,150.6 776.5,140.0 C776.8,129.4 803.8,98.3 779.0,90.0 C754.2,81.7 653.1,88.3 628.0,90.0 C602.9,91.7 628.3,97.2 628.4,100.0Z" fill="#339966"/>
<path d="M702.2,216.5 C703.1,214.3 706.4,211.8 708.6,211.0 C710.9,210.2 714.0,210.2 715.7,211.7 C717.4,213.1 718.1,217.0 718.6,219.7 C719.1,222.3 718.4,225.2 719.0,227.6 C719.6,230.0 722.0,231.3 722.0,234.0 C722.0,236.7 720.7,241.1 719.0,243.5 C717.3,245.9 714.0,246.5 711.7,248.3 C709.4,250.2 707.0,252.5 705.4,254.6 C703.8,256.7 703.8,259.4 702.2,261.0 C700.6,262.6 698.3,263.7 695.9,264.1 C693.5,264.5 690.1,264.4 687.9,263.3 C685.6,262.2 683.2,259.8 682.4,257.8 C681.6,255.8 682.3,253.5 683.2,251.4 C684.1,249.3 686.0,247.2 687.9,245.1 C689.8,243.0 692.2,240.8 694.3,238.7 C696.4,236.6 699.1,234.8 700.6,232.4 C702.1,230.0 702.7,227.1 703.0,224.4 C703.3,221.8 701.3,218.7 702.2,216.5Z" fill="#33CC66"/>
<path d="M696.9,257.0 C696.9,257.8 696.7,258.6 696.3,259.2 C695.9,259.9 695.3,260.5 694.6,260.9 C694.0,261.3 693.1,261.5 692.4,261.5 C691.6,261.5 690.8,261.3 690.1,260.9 C689.5,260.5 688.9,259.9 688.5,259.2 C688.1,258.6 687.9,257.8 687.9,257.0 C687.9,256.2 688.1,255.4 688.5,254.8 C688.9,254.1 689.5,253.5 690.1,253.1 C690.8,252.7 691.6,252.5 692.4,252.5 C693.1,252.5 694.0,252.7 694.6,253.1 C695.3,253.5 695.9,254.1 696.3,254.8 C696.7,255.4 696.9,256.2 696.9,257.0Z" fill="#99FF00"/>
<path d="M336.5,319.7 C340.8,318.9 346.1,315.6 350.6,315.4 C355.1,315.2 360.4,316.3 363.6,318.7 C366.9,321.1 368.8,325.5 370.1,329.5 C371.4,333.5 371.6,338.5 371.2,342.5 C370.8,346.5 369.5,349.7 367.9,353.3 C366.3,356.9 362.8,360.5 361.4,364.1 C360.0,367.7 359.3,371.3 359.3,374.9 C359.3,378.5 361.4,382.2 361.4,385.8 C361.4,389.4 359.3,393.4 359.3,396.6 C359.3,399.8 359.6,402.7 361.4,405.2 C363.2,407.7 367.6,409.2 370.1,411.7 C372.6,414.2 375.2,417.1 376.6,420.4 C378.0,423.6 378.7,427.2 378.7,431.2 C378.7,435.2 377.7,440.6 376.6,444.2 C375.5,447.8 374.5,450.7 372.3,452.9 C370.1,455.1 365.8,457.2 363.6,457.2 C361.4,457.2 359.3,455.1 359.3,452.9 C359.3,450.7 363.2,447.1 363.6,444.2 C364.0,441.3 363.2,437.7 361.4,435.5 C359.6,433.3 355.7,433.0 352.8,431.2 C349.9,429.4 346.6,426.9 344.1,424.7 C341.6,422.5 340.1,420.4 337.6,418.2 C335.1,416.0 331.5,413.1 329.0,411.7 C326.5,410.3 324.7,409.6 322.5,409.6 C320.3,409.6 319.8,411.3 316.0,411.7 C312.2,412.1 304.3,423.1 300.0,412.0 C295.7,400.9 285.8,360.3 290.0,345.0 C294.2,329.7 317.2,324.2 325.0,320.0 C332.8,315.8 332.2,320.5 336.5,319.7Z" fill="#339966"/>
<path d="M332.6,521.4 C335.1,518.4 336.6,518.1 339.8,516.7 C343.0,515.3 347.7,513.3 351.7,513.1 C355.7,512.9 360.0,513.7 363.6,515.5 C367.2,517.3 370.9,520.4 373.1,523.8 C375.3,527.2 376.1,531.7 376.7,535.7 C377.3,539.7 376.1,543.6 376.7,547.6 C377.3,551.6 379.0,555.9 380.2,559.5 C381.4,563.1 383.4,565.4 383.8,569.0 C384.2,572.6 383.6,577.8 382.6,581.0 C381.6,584.2 379.5,585.9 377.9,588.1 C376.3,590.3 374.8,591.7 373.1,594.0 C371.5,596.3 373.5,606.0 368.0,602.0 C362.5,598.0 347.2,581.2 340.0,570.0 C332.8,558.8 326.2,543.1 325.0,535.0 C323.8,526.9 330.1,524.4 332.6,521.4Z" fill="#339966"/>
<path d="M417.1,531.0 C417.5,527.8 418.5,523.6 420.7,521.4 C422.9,519.2 426.6,517.9 430.2,517.9 C433.8,517.9 438.5,520.0 442.1,521.4 C445.7,522.8 447.7,524.6 451.7,526.2 C455.7,527.8 460.4,528.6 466.0,531.0 C471.6,533.4 479.3,537.8 485.0,540.5 C490.7,543.2 495.5,545.1 500.0,547.0 C504.5,548.9 509.0,550.2 512.0,552.0 C515.0,553.8 516.7,555.0 518.0,558.0 C519.3,561.0 530.5,565.5 520.0,570.0 C509.5,574.5 464.8,585.7 455.0,585.0 C445.2,584.3 461.8,568.7 461.2,566.0 C460.6,563.3 454.9,568.9 451.7,569.0 C448.5,569.1 445.3,568.3 442.1,566.7 C438.9,565.1 435.8,562.3 432.6,559.5 C429.4,556.7 425.5,553.2 423.1,550.0 C420.7,546.8 419.3,543.7 418.3,540.5 C417.3,537.3 416.7,534.2 417.1,531.0Z" fill="#339966"/>
<path d="M429.1,382.5 C429.1,384.2 428.5,386.1 427.6,387.5 C426.7,388.9 425.2,390.3 423.6,391.2 C422.0,392.0 419.9,392.5 418.1,392.5 C416.3,392.5 414.2,392.0 412.6,391.2 C411.0,390.3 409.5,388.9 408.6,387.5 C407.7,386.1 407.1,384.2 407.1,382.5 C407.1,380.8 407.7,378.9 408.6,377.5 C409.5,376.1 411.0,374.7 412.6,373.8 C414.2,373.0 416.3,372.5 418.1,372.5 C419.9,372.5 422.0,373.0 423.6,373.8 C425.2,374.7 426.7,376.1 427.6,377.5 C428.5,378.9 429.1,380.8 429.1,382.5Z" fill="#339966"/>
<path d="M590.0,150.9 C586.0,150.9 583.9,152.4 580.5,153.1 C577.1,153.8 573.3,154.7 569.7,155.2 C566.1,155.7 561.5,155.4 558.8,156.3 C556.1,157.2 553.8,158.2 553.4,160.6 C553.0,162.9 554.7,167.7 556.7,170.4 C558.7,173.1 562.8,175.1 565.3,176.9 C567.8,178.7 570.3,179.0 571.8,181.2 C573.2,183.4 573.5,186.7 574.0,189.9 C574.5,193.2 575.1,197.1 574.5,200.7 C573.9,204.3 572.0,207.4 570.1,211.5 C568.2,215.6 565.8,221.2 563.1,225.4 C560.4,229.7 556.2,233.5 553.9,237.0 C551.6,240.5 551.2,242.4 549.3,246.2 C547.4,250.0 545.1,255.8 542.4,260.0 C539.7,264.2 535.6,267.8 533.1,271.6 C530.6,275.5 528.8,278.9 527.3,283.1 C525.8,287.3 524.7,292.4 523.9,297.0 C523.1,301.6 523.9,306.7 522.7,310.9 C521.6,315.1 516.4,320.7 517.0,322.4 C517.6,324.1 522.4,320.8 526.2,321.2 C530.0,321.6 535.4,323.9 540.0,324.7 C544.6,325.5 551.2,325.1 553.9,325.9 C556.6,326.7 557.0,327.2 556.2,329.3 C555.4,331.4 550.6,335.7 549.3,338.6 C548.0,341.5 547.6,343.0 548.2,346.5 C548.9,350.0 550.2,356.5 553.2,359.8 C556.2,363.1 562.6,363.6 566.5,366.4 C570.4,369.2 574.5,373.6 576.4,376.4 C578.3,379.2 579.2,380.2 578.1,383.0 C577.0,385.8 571.7,389.1 569.8,393.0 C567.9,396.9 566.2,402.0 566.5,406.2 C566.8,410.4 569.7,414.1 571.3,418.0 C572.9,421.9 574.0,425.4 576.2,429.4 C578.5,433.3 581.9,438.4 584.8,441.7 C587.7,445.0 593.4,446.9 593.4,449.1 C593.4,451.4 587.5,452.6 584.8,455.2 C582.1,457.8 579.1,461.5 577.4,465.0 C575.7,468.5 574.5,472.6 574.5,476.1 C574.5,479.6 575.7,483.4 577.4,485.9 C579.1,488.4 581.9,490.4 584.8,491.3 C587.7,492.2 592.0,492.2 594.6,491.3 C597.2,490.4 599.3,485.4 600.7,485.9 C602.1,486.4 601.8,491.4 603.2,494.5 C604.6,497.6 607.7,501.2 609.3,504.3 C610.9,507.4 613.4,510.0 613.0,512.9 C612.6,515.8 608.4,518.2 606.9,521.5 C605.4,524.8 604.4,528.6 603.9,532.5 C603.4,536.4 603.0,542.3 603.9,544.8 C604.8,547.2 607.9,545.3 609.3,547.2 C610.6,549.1 603.5,547.2 612.0,556.0 C620.5,564.8 635.3,626.0 660.0,600.0 C684.7,574.0 746.7,451.3 760.0,400.0 C773.3,348.7 744.4,311.2 740.0,292.0 C735.6,272.8 736.4,287.4 733.8,285.0 C731.2,282.6 727.5,280.3 724.4,277.5 C721.3,274.7 719.7,270.1 715.0,268.1 C710.3,266.1 701.9,264.9 696.3,265.5 C690.7,266.1 685.7,269.3 681.3,271.9 C676.9,274.5 673.8,277.9 670.0,281.3 C666.2,284.7 662.2,293.1 658.8,292.5 C655.4,291.9 652.5,282.2 649.4,277.5 C646.3,272.8 641.6,268.1 640.0,264.4 C638.4,260.6 638.8,257.8 640.0,255.0 C641.2,252.2 644.4,250.0 647.5,247.5 C650.6,245.0 656.0,243.8 658.8,240.0 C661.6,236.2 664.1,230.0 664.4,225.0 C664.7,220.0 662.3,214.0 660.6,210.0 C658.9,206.0 656.1,203.8 654.4,201.0 C652.6,198.2 651.9,196.1 650.1,193.4 C648.3,190.7 645.4,187.6 643.6,184.7 C641.8,181.8 640.8,179.3 639.3,176.1 C637.8,172.8 636.7,168.1 634.9,165.2 C633.1,162.3 631.3,160.1 628.4,158.7 C625.5,157.3 621.6,157.5 617.6,156.6 C613.6,155.7 609.2,154.2 604.6,153.3 C600.0,152.4 594.0,150.9 590.0,150.9Z" fill="#006633"/>
<path d="M602.0,471.2 C602.2,468.3 604.4,463.8 606.9,461.3 C609.4,458.8 613.2,457.0 616.7,456.4 C620.2,455.8 624.8,456.3 627.7,457.7 C630.6,459.1 633.3,461.9 633.9,465.0 C634.5,468.1 633.0,473.2 631.4,476.1 C629.8,479.0 626.9,481.2 624.0,482.2 C621.1,483.2 617.3,482.8 614.2,482.2 C611.1,481.6 607.6,480.3 605.6,478.5 C603.6,476.7 601.8,474.1 602.0,471.2Z" fill="#339966"/>
<path d="M623.2,467.5 C623.2,468.2 623.0,469.1 622.6,469.8 C622.2,470.4 621.6,471.0 621.0,471.4 C620.3,471.8 619.5,472.0 618.7,472.0 C618.0,472.0 617.1,471.8 616.5,471.4 C615.8,471.0 615.2,470.4 614.8,469.8 C614.4,469.1 614.2,468.2 614.2,467.5 C614.2,466.8 614.4,465.9 614.8,465.2 C615.2,464.6 615.8,464.0 616.5,463.6 C617.1,463.2 618.0,463.0 618.7,463.0 C619.5,463.0 620.3,463.2 621.0,463.6 C621.6,464.0 622.2,464.6 622.6,465.2 C623.0,465.9 623.2,466.8 623.2,467.5Z" fill="#33CC66"/>
<path d="M604.2,513.4 C604.2,514.0 604.0,514.6 603.7,515.1 C603.4,515.7 603.0,516.1 602.5,516.4 C601.9,516.7 601.3,516.9 600.7,516.9 C600.1,516.9 599.5,516.7 599.0,516.4 C598.4,516.1 598.0,515.7 597.7,515.1 C597.4,514.6 597.2,514.0 597.2,513.4 C597.2,512.8 597.4,512.2 597.7,511.6 C598.0,511.1 598.4,510.7 599.0,510.4 C599.5,510.1 600.1,509.9 600.7,509.9 C601.3,509.9 601.9,510.1 602.5,510.4 C603.0,510.7 603.4,511.1 603.7,511.6 C604.0,512.2 604.2,512.8 604.2,513.4Z" fill="#33CC66"/>
<path d="M695.0,350.0 C686.0,350.8 689.2,352.1 686.0,354.8 C682.8,357.5 678.1,361.7 676.0,366.4 C673.9,371.1 673.4,377.5 673.4,383.0 C673.4,388.5 675.6,394.1 676.0,399.6 C676.4,405.1 676.3,411.8 676.0,416.2 C675.7,420.6 673.8,422.3 674.4,426.2 C675.0,430.1 677.5,435.8 679.4,439.4 C681.3,443.0 675.9,446.6 686.0,448.0 C696.1,449.4 731.0,464.3 740.0,448.0 C749.0,431.7 747.5,366.3 740.0,350.0 C732.5,333.7 704.0,349.2 695.0,350.0Z" fill="#339966"/>
<path d="M721.0,414.0 C721.0,414.7 720.8,415.4 720.4,416.0 C720.0,416.6 719.4,417.1 718.8,417.5 C718.1,417.8 717.2,418.0 716.5,418.0 C715.8,418.0 714.9,417.8 714.2,417.5 C713.6,417.1 713.0,416.6 712.6,416.0 C712.2,415.4 712.0,414.7 712.0,414.0 C712.0,413.3 712.2,412.6 712.6,412.0 C713.0,411.4 713.6,410.9 714.2,410.5 C714.9,410.2 715.8,410.0 716.5,410.0 C717.2,410.0 718.1,410.2 718.8,410.5 C719.4,410.9 720.0,411.4 720.4,412.0 C720.8,412.6 721.0,413.3 721.0,414.0Z" fill="#33CC66"/>
<path d="M596.7,324.7 C596.7,325.3 596.5,325.9 596.2,326.4 C595.9,327.0 595.5,327.4 595.0,327.7 C594.4,328.0 593.8,328.2 593.2,328.2 C592.6,328.2 592.0,328.0 591.5,327.7 C590.9,327.4 590.5,327.0 590.2,326.4 C589.9,325.9 589.7,325.3 589.7,324.7 C589.7,324.1 589.9,323.5 590.2,322.9 C590.5,322.4 590.9,322.0 591.5,321.7 C592.0,321.4 592.6,321.2 593.2,321.2 C593.8,321.2 594.4,321.4 595.0,321.7 C595.5,322.0 595.9,322.4 596.2,322.9 C596.5,323.5 596.7,324.1 596.7,324.7Z" fill="#339966"/>
<path d="M640.5,266.0 L659.3,292.6 L679.0,274.5 L672.0,262.0 L650.0,258.0Z" fill="#339966"/>
<path d="M665.9,268.1 C665.9,268.7 665.7,269.3 665.4,269.9 C665.1,270.4 664.7,270.8 664.1,271.1 C663.6,271.4 663.0,271.6 662.4,271.6 C661.8,271.6 661.2,271.4 660.6,271.1 C660.1,270.8 659.7,270.4 659.4,269.9 C659.1,269.3 658.9,268.7 658.9,268.1 C658.9,267.5 659.1,266.9 659.4,266.4 C659.7,265.8 660.1,265.4 660.6,265.1 C661.2,264.8 661.8,264.6 662.4,264.6 C663.0,264.6 663.6,264.8 664.1,265.1 C664.7,265.4 665.1,265.8 665.4,266.4 C665.7,266.9 665.9,267.5 665.9,268.1Z" fill="#33CC66"/>
<path d="M647.5,459.4 C647.5,459.9 647.3,460.5 647.1,460.9 C646.8,461.3 646.4,461.7 646.0,462.0 C645.6,462.2 645.0,462.4 644.5,462.4 C644.0,462.4 643.4,462.2 643.0,462.0 C642.6,461.7 642.2,461.3 641.9,460.9 C641.7,460.5 641.5,459.9 641.5,459.4 C641.5,458.9 641.7,458.3 641.9,457.9 C642.2,457.5 642.6,457.1 643.0,456.8 C643.4,456.6 644.0,456.4 644.5,456.4 C645.0,456.4 645.6,456.6 646.0,456.8 C646.4,457.1 646.8,457.5 647.1,457.9 C647.3,458.3 647.5,458.9 647.5,459.4Z" fill="#339966"/>
<path d="M757.5,156.1 C757.5,157.6 757.0,159.3 756.2,160.6 C755.3,161.9 753.9,163.1 752.5,163.9 C751.1,164.6 749.2,165.1 747.5,165.1 C745.8,165.1 743.9,164.6 742.5,163.9 C741.1,163.1 739.7,161.9 738.8,160.6 C738.0,159.3 737.5,157.6 737.5,156.1 C737.5,154.6 738.0,152.9 738.8,151.6 C739.7,150.3 741.1,149.1 742.5,148.3 C743.9,147.6 745.8,147.1 747.5,147.1 C749.2,147.1 751.1,147.6 752.5,148.3 C753.9,149.1 755.3,150.3 756.2,151.6 C757.0,152.9 757.5,154.6 757.5,156.1Z" fill="#006633"/>
<path d="M350.5,350.0 C350.5,351.2 350.1,352.5 349.5,353.5 C348.9,354.5 347.8,355.5 346.8,356.1 C345.7,356.6 344.2,357.0 343.0,357.0 C341.8,357.0 340.3,356.6 339.2,356.1 C338.2,355.5 337.1,354.5 336.5,353.5 C335.9,352.5 335.5,351.2 335.5,350.0 C335.5,348.8 335.9,347.5 336.5,346.5 C337.1,345.5 338.2,344.5 339.2,343.9 C340.3,343.4 341.8,343.0 343.0,343.0 C344.2,343.0 345.7,343.4 346.8,343.9 C347.8,344.5 348.9,345.5 349.5,346.5 C350.1,347.5 350.5,348.8 350.5,350.0Z" fill="#006633"/>
<path d="M373.9,574.3 C373.9,575.8 373.6,577.5 373.1,578.8 C372.6,580.1 371.8,581.3 370.9,582.1 C370.0,582.8 368.9,583.3 367.9,583.3 C366.9,583.3 365.8,582.8 364.9,582.1 C364.0,581.3 363.2,580.1 362.7,578.8 C362.2,577.5 361.9,575.8 361.9,574.3 C361.9,572.8 362.2,571.1 362.7,569.8 C363.2,568.5 364.0,567.3 364.9,566.5 C365.8,565.8 366.9,565.3 367.9,565.3 C368.9,565.3 370.0,565.8 370.9,566.5 C371.8,567.3 372.6,568.5 373.1,569.8 C373.6,571.1 373.9,572.8 373.9,574.3Z" fill="#006633"/>
<path d="M498.0,556.0 C498.0,556.7 497.7,557.4 497.2,558.0 C496.7,558.6 495.9,559.1 495.0,559.5 C494.1,559.8 493.0,560.0 492.0,560.0 C491.0,560.0 489.9,559.8 489.0,559.5 C488.1,559.1 487.3,558.6 486.8,558.0 C486.3,557.4 486.0,556.7 486.0,556.0 C486.0,555.3 486.3,554.6 486.8,554.0 C487.3,553.4 488.1,552.9 489.0,552.5 C489.9,552.2 491.0,552.0 492.0,552.0 C493.0,552.0 494.1,552.2 495.0,552.5 C495.9,552.9 496.7,553.4 497.2,554.0 C497.7,554.6 498.0,555.3 498.0,556.0Z" fill="#006633"/>
<path d="M226.2,104.1 C229.2,102.6 232.6,100.7 236.0,100.9 C239.4,101.1 243.9,103.2 246.8,105.2 C249.7,107.2 253.3,110.5 253.3,112.8 C253.3,115.1 249.7,117.9 246.8,119.3 C243.9,120.7 239.2,121.8 236.0,121.4 C232.8,121.0 230.3,119.0 227.3,117.1 C224.3,115.2 218.2,112.2 218.0,110.0 C217.8,107.8 223.2,105.6 226.2,104.1Z" fill="#FFFF99"/>
<path d="M267.0,115.0 C267.0,115.5 266.8,116.1 266.6,116.5 C266.3,116.9 265.9,117.3 265.5,117.6 C265.1,117.8 264.5,118.0 264.0,118.0 C263.5,118.0 262.9,117.8 262.5,117.6 C262.1,117.3 261.7,116.9 261.4,116.5 C261.2,116.1 261.0,115.5 261.0,115.0 C261.0,114.5 261.2,113.9 261.4,113.5 C261.7,113.1 262.1,112.7 262.5,112.4 C262.9,112.2 263.5,112.0 264.0,112.0 C264.5,112.0 265.1,112.2 265.5,112.4 C265.9,112.7 266.3,113.1 266.6,113.5 C266.8,113.9 267.0,114.5 267.0,115.0Z" fill="#FFFF99"/>
<path d="M242.5,147.4 C245.4,146.7 250.4,151.4 253.3,153.9 C256.2,156.4 258.9,159.3 259.8,162.6 C260.7,165.8 260.5,170.5 258.7,173.4 C256.9,176.3 252.4,177.1 249.0,179.9 C245.6,182.7 240.9,191.4 238.1,190.0 C235.3,188.6 232.3,176.5 232.0,171.2 C231.7,165.9 234.2,162.2 236.0,158.2 C237.8,154.2 239.6,148.1 242.5,147.4Z" fill="#FFFF99"/>
<path d="M364.4,148.5 C364.4,149.3 364.1,150.3 363.7,151.0 C363.3,151.7 362.6,152.4 361.9,152.8 C361.2,153.2 360.2,153.5 359.4,153.5 C358.6,153.5 357.6,153.2 356.9,152.8 C356.2,152.4 355.5,151.7 355.1,151.0 C354.7,150.3 354.4,149.3 354.4,148.5 C354.4,147.7 354.7,146.7 355.1,146.0 C355.5,145.3 356.2,144.6 356.9,144.2 C357.6,143.8 358.6,143.5 359.4,143.5 C360.2,143.5 361.2,143.8 361.9,144.2 C362.6,144.6 363.3,145.3 363.7,146.0 C364.1,146.7 364.4,147.7 364.4,148.5Z" fill="#FFFF99"/>
<path d="M400.9,146.2 C401.2,140.9 405.6,134.3 409.2,129.6 C412.8,124.9 417.4,121.0 422.4,118.0 C427.4,115.0 434.6,111.7 439.0,111.4 C443.4,111.1 447.2,113.4 449.0,116.4 C450.8,119.4 450.0,124.6 449.7,129.6 C449.4,134.6 448.0,140.7 447.3,146.2 C446.6,151.7 444.9,158.9 445.7,162.8 C446.5,166.7 449.0,167.3 452.3,169.5 C455.6,171.7 462.6,173.3 465.6,176.1 C468.7,178.9 471.2,183.4 470.6,186.1 C470.1,188.8 465.9,191.5 462.3,192.1 C458.7,192.7 452.9,191.5 449.0,189.4 C445.1,187.3 441.8,182.5 439.0,179.4 C436.2,176.3 435.7,173.0 432.4,171.1 C429.1,169.2 423.2,169.5 419.1,167.8 C415.0,166.2 410.5,164.8 407.5,161.2 C404.5,157.6 400.6,151.5 400.9,146.2Z" fill="#FFFF99"/>
<path d="M512.1,133.0 C512.1,135.3 511.3,138.0 510.1,140.0 C508.8,142.0 506.8,144.0 504.6,145.1 C502.4,146.3 499.6,147.0 497.1,147.0 C494.6,147.0 491.8,146.3 489.6,145.1 C487.4,144.0 485.4,142.0 484.1,140.0 C482.9,138.0 482.1,135.3 482.1,133.0 C482.1,130.7 482.9,128.0 484.1,126.0 C485.4,124.0 487.4,122.0 489.6,120.9 C491.8,119.7 494.6,119.0 497.1,119.0 C499.6,119.0 502.4,119.7 504.6,120.9 C506.8,122.0 508.8,124.0 510.1,126.0 C511.3,128.0 512.1,130.7 512.1,133.0Z" fill="#FFFF99"/>
<path d="M501.0,133.0 C501.0,133.6 500.8,134.2 500.5,134.8 C500.1,135.3 499.6,135.7 499.0,136.0 C498.4,136.3 497.7,136.5 497.0,136.5 C496.3,136.5 495.6,136.3 495.0,136.0 C494.4,135.7 493.9,135.3 493.5,134.8 C493.2,134.2 493.0,133.6 493.0,133.0 C493.0,132.4 493.2,131.8 493.5,131.2 C493.9,130.7 494.4,130.3 495.0,130.0 C495.6,129.7 496.3,129.5 497.0,129.5 C497.7,129.5 498.4,129.7 499.0,130.0 C499.6,130.3 500.1,130.7 500.5,131.2 C500.8,131.8 501.0,132.4 501.0,133.0Z" fill="#FFCC00"/>
<path d="M449.0,86.0 C451.5,84.2 462.5,87.2 465.0,89.0 C467.5,90.8 465.3,94.7 464.0,97.0 C462.7,99.3 459.3,102.5 457.0,103.0 C454.7,103.5 451.3,102.8 450.0,100.0 C448.7,97.2 446.5,87.8 449.0,86.0Z" fill="#FFFF99"/>
<path d="M737.1,227.6 C738.4,226.3 741.4,224.7 743.5,224.4 C745.6,224.1 748.5,224.7 749.8,226.0 C751.1,227.3 751.6,230.0 751.4,232.4 C751.1,234.8 749.1,237.7 748.3,240.3 C747.5,243.0 747.2,245.7 746.7,248.3 C746.2,251.0 746.0,254.1 745.1,256.2 C744.2,258.3 742.6,260.7 741.1,261.0 C739.6,261.3 737.2,259.9 736.3,257.8 C735.4,255.7 735.6,251.5 735.6,248.3 C735.6,245.1 736.3,241.3 736.3,238.7 C736.3,236.0 735.5,234.2 735.6,232.4 C735.7,230.6 735.8,228.9 737.1,227.6Z" fill="#FFFF99"/>
<path d="M741.5,254.3 C741.5,254.8 741.4,255.4 741.2,255.8 C741.1,256.2 740.8,256.6 740.5,256.9 C740.2,257.1 739.8,257.3 739.5,257.3 C739.2,257.3 738.8,257.1 738.5,256.9 C738.2,256.6 737.9,256.2 737.8,255.8 C737.6,255.4 737.5,254.8 737.5,254.3 C737.5,253.8 737.6,253.2 737.8,252.8 C737.9,252.4 738.2,252.0 738.5,251.7 C738.8,251.5 739.2,251.3 739.5,251.3 C739.8,251.3 740.2,251.5 740.5,251.7 C740.8,252.0 741.1,252.4 741.2,252.8 C741.4,253.2 741.5,253.8 741.5,254.3Z" fill="#FFCC00"/>
<path d="M802.9,182.4 C803.3,180.0 804.4,175.7 806.0,172.9 C807.6,170.1 810.0,167.4 812.4,165.7 C814.8,164.0 817.6,162.8 820.3,162.5 C822.9,162.2 826.2,162.9 828.3,164.1 C830.4,165.3 832.0,167.4 833.0,169.7 C834.0,171.9 834.7,174.9 834.6,177.6 C834.5,180.2 833.2,182.9 832.2,185.6 C831.2,188.2 830.0,191.4 828.3,193.5 C826.6,195.6 824.3,197.8 821.9,198.3 C819.5,198.8 816.4,197.8 814.0,196.7 C811.6,195.6 809.3,193.5 807.6,191.9 C805.9,190.3 804.5,188.7 803.7,187.1 C802.9,185.5 802.5,184.8 802.9,182.4Z" fill="#FFFF99"/>
<path d="M812.4,182.4 C812.3,180.8 813.5,178.7 814.8,177.6 C816.1,176.5 818.4,175.9 820.3,176.0 C822.1,176.1 824.6,177.1 825.9,178.4 C827.2,179.7 828.3,182.4 828.3,184.0 C828.3,185.6 827.1,187.0 825.9,187.9 C824.7,188.8 822.8,189.6 821.1,189.5 C819.4,189.4 817.1,188.3 815.6,187.1 C814.1,185.9 812.5,184.0 812.4,182.4Z" fill="#FFCC00"/>
<path d="M846.5,201.5 C846.3,200.3 848.8,198.2 850.5,196.7 C852.2,195.2 854.9,193.9 856.8,192.7 C858.6,191.5 860.1,189.9 861.6,189.5 C863.1,189.1 866.3,188.7 866.0,190.0 C865.7,191.3 862.4,195.2 860.0,197.5 C857.6,199.8 853.8,203.3 851.5,204.0 C849.2,204.7 846.7,202.7 846.5,201.5Z" fill="#FFFF99"/>
<path d="M863.0,150.0 C864.8,148.2 873.8,148.0 876.0,150.0 C878.2,152.0 877.8,160.2 876.0,162.0 C874.2,163.8 867.2,163.0 865.0,161.0 C862.8,159.0 861.2,151.8 863.0,150.0Z" fill="#FFFF99"/>
<path d="M474.4,503.1 C475.2,501.1 478.4,498.2 481.7,498.2 C485.0,498.2 489.9,501.5 494.0,503.1 C498.1,504.7 502.6,506.4 506.3,508.0 C510.0,509.6 514.1,510.9 516.1,512.9 C518.1,514.9 518.9,518.0 518.5,520.2 C518.1,522.5 516.1,525.2 513.6,526.4 C511.2,527.6 507.1,528.2 503.8,527.6 C500.5,527.0 497.3,524.8 494.0,522.7 C490.7,520.7 487.1,517.3 484.2,515.3 C481.3,513.2 478.4,512.4 476.8,510.4 C475.2,508.4 473.6,505.1 474.4,503.1Z" fill="#FFFF99"/>
<path d="M477.9,468.2 C477.9,468.9 477.7,469.6 477.4,470.2 C477.0,470.8 476.5,471.3 475.9,471.7 C475.3,472.0 474.6,472.2 473.9,472.2 C473.2,472.2 472.5,472.0 471.9,471.7 C471.3,471.3 470.8,470.8 470.4,470.2 C470.1,469.6 469.9,468.9 469.9,468.2 C469.9,467.5 470.1,466.8 470.4,466.2 C470.8,465.6 471.3,465.1 471.9,464.7 C472.5,464.4 473.2,464.2 473.9,464.2 C474.6,464.2 475.3,464.4 475.9,464.7 C476.5,465.1 477.0,465.6 477.4,466.2 C477.7,466.8 477.9,467.5 477.9,468.2Z" fill="#99FF00"/>
<path d="M475.9,468.2 C475.9,468.5 475.8,468.9 475.6,469.2 C475.5,469.5 475.2,469.8 474.9,469.9 C474.6,470.1 474.2,470.2 473.9,470.2 C473.6,470.2 473.2,470.1 472.9,469.9 C472.6,469.8 472.3,469.5 472.2,469.2 C472.0,468.9 471.9,468.5 471.9,468.2 C471.9,467.9 472.0,467.5 472.2,467.2 C472.3,466.9 472.6,466.6 472.9,466.5 C473.2,466.3 473.6,466.2 473.9,466.2 C474.2,466.2 474.6,466.3 474.9,466.5 C475.2,466.6 475.5,466.9 475.6,467.2 C475.8,467.5 475.9,467.9 475.9,468.2Z" fill="#FFFF99"/>
<path d="M489.8,261.2 C489.8,262.0 489.5,263.0 489.1,263.7 C488.7,264.4 488.0,265.1 487.3,265.5 C486.6,265.9 485.6,266.2 484.8,266.2 C484.0,266.2 483.0,265.9 482.3,265.5 C481.6,265.1 480.9,264.4 480.5,263.7 C480.1,263.0 479.8,262.0 479.8,261.2 C479.8,260.4 480.1,259.4 480.5,258.7 C480.9,258.0 481.6,257.3 482.3,256.9 C483.0,256.5 484.0,256.2 484.8,256.2 C485.6,256.2 486.6,256.5 487.3,256.9 C488.0,257.3 488.7,258.0 489.1,258.7 C489.5,259.4 489.8,260.4 489.8,261.2Z" fill="#FFFF99"/>
<path d="M389.8,559.5 C391.2,556.7 396.1,554.8 399.3,554.8 C402.5,554.8 406.2,557.1 408.8,559.5 C411.4,561.9 413.2,565.8 414.8,569.0 C416.4,572.2 418.5,575.8 418.3,578.6 C418.1,581.4 416.0,584.3 413.6,585.7 C411.2,587.1 406.8,587.7 404.0,586.9 C401.2,586.1 399.1,583.6 396.9,581.0 C394.7,578.4 392.2,575.0 391.0,571.4 C389.8,567.8 388.4,562.3 389.8,559.5Z" fill="#99FF99"/>
<path d="M415.0,575.0 C415.0,576.3 414.7,577.8 414.1,579.0 C413.6,580.2 412.7,581.3 411.8,581.9 C410.8,582.6 409.6,583.0 408.5,583.0 C407.4,583.0 406.2,582.6 405.2,581.9 C404.3,581.3 403.4,580.2 402.9,579.0 C402.3,577.8 402.0,576.3 402.0,575.0 C402.0,573.7 402.3,572.2 402.9,571.0 C403.4,569.8 404.3,568.7 405.2,568.1 C406.2,567.4 407.4,567.0 408.5,567.0 C409.6,567.0 410.8,567.4 411.8,568.1 C412.7,568.7 413.6,569.8 414.1,571.0 C414.7,572.2 415.0,573.7 415.0,575.0Z" fill="#CCFFCC"/>
<path d="M344.0,451.0 C344.0,452.0 343.7,453.1 343.2,454.0 C342.7,454.9 341.9,455.7 341.0,456.2 C340.1,456.7 339.0,457.0 338.0,457.0 C337.0,457.0 335.9,456.7 335.0,456.2 C334.1,455.7 333.3,454.9 332.8,454.0 C332.3,453.1 332.0,452.0 332.0,451.0 C332.0,450.0 332.3,448.9 332.8,448.0 C333.3,447.1 334.1,446.3 335.0,445.8 C335.9,445.3 337.0,445.0 338.0,445.0 C339.0,445.0 340.1,445.3 341.0,445.8 C341.9,446.3 342.7,447.1 343.2,448.0 C343.7,448.9 344.0,450.0 344.0,451.0Z" fill="#CCFFCC"/>
<path d="M408.0,607.0 C408.0,607.8 407.5,608.8 406.7,609.5 C405.8,610.2 404.4,610.9 403.0,611.3 C401.6,611.7 399.7,612.0 398.0,612.0 C396.3,612.0 394.4,611.7 393.0,611.3 C391.6,610.9 390.2,610.2 389.3,609.5 C388.5,608.8 388.0,607.8 388.0,607.0 C388.0,606.2 388.5,605.2 389.3,604.5 C390.2,603.8 391.6,603.1 393.0,602.7 C394.4,602.3 396.3,602.0 398.0,602.0 C399.7,602.0 401.6,602.3 403.0,602.7 C404.4,603.1 405.8,603.8 406.7,604.5 C407.5,605.2 408.0,606.2 408.0,607.0Z" fill="#33CC66"/>
<path d="M660.9,122.0 L656.6,130.6 L653.3,139.3 L654.4,150.1 L655.5,158.7 L660.9,163.1 L663.1,171.7 L658.7,182.6 L656.6,188.0 L665.2,191.2 L673.9,197.7 L676.1,206.4 L682.6,210.7 L691.2,217.2 L695.5,220.0 L700.0,226.0 L704.0,233.0" fill="none" stroke="#d4ded4" stroke-width="1" stroke-linejoin="round"/>
<path d="M736.7,132.8 L739.9,143.6 L741.0,156.6 L739.9,169.6 L736.7,182.6 L732.3,193.4 L725.8,202.0 L721.5,208.5 L722.6,217.2 L724.8,222.0 L722.0,230.0 L716.0,238.0 L712.0,246.0" fill="none" stroke="#d4ded4" stroke-width="1" stroke-linejoin="round"/>
<path d="M653.3,139.3 L645.8,141.4 L639.3,146.8 L634.9,154.4 L631.7,160.9 L629.5,171.7 L630.6,182.6 L634.9,186.9 L630.6,193.4 L624.1,195.5 L617.6,193.4 L611.1,190.1 L604.6,188.0 L603.5,194.5 L606.8,204.2 L605.7,212.9 L602.5,220.0 L601.2,225.4 L593.2,230.0 L589.7,239.3 L590.9,247.3 L595.5,249.7" fill="none" stroke="#d4ded4" stroke-width="1" stroke-linejoin="round"/>
<path d="M570.0,155.5 L578.7,155.5 L587.3,159.8 L596.0,164.2 L602.5,169.6 L610.0,173.9 L614.4,176.1 L611.1,180.4 L604.6,182.6 L603.5,188.0" fill="none" stroke="#d4ded4" stroke-width="1" stroke-linejoin="round"/>
<path d="M560.0,184.0 L570.0,182.6 L578.7,180.4 L585.2,179.3 L589.5,184.7 L591.6,191.2 L598.1,194.5 L604.6,194.5" fill="none" stroke="#d4ded4" stroke-width="1" stroke-linejoin="round"/>
<path d="M584.1,125.2 L581.9,134.9 L578.7,143.6 L574.3,150.1 L575.4,154.4" fill="none" stroke="#d4ded4" stroke-width="1" stroke-linejoin="round"/>
<path d="M517.0,220.8 L526.2,230.0 L533.1,237.0 L544.7,238.1 L553.9,241.6 L565.5,245.0 L572.4,253.1 L581.6,255.4 L590.9,252.0 L595.5,249.7 L602.4,253.1 L611.6,257.7 L618.6,264.7" fill="none" stroke="#d4ded4" stroke-width="1" stroke-linejoin="round"/>
<path d="M618.6,264.7 L627.8,257.7 L637.0,252.0 L646.3,247.3 L655.5,249.7 L664.8,246.2 L671.7,239.3 L678.6,234.6 L686.0,230.0 L694.0,228.0 L704.0,233.0" fill="none" stroke="#d4ded4" stroke-width="1" stroke-linejoin="round"/>
<path d="M618.6,264.7 L623.2,271.6 L624.3,280.8 L620.9,288.9 L615.1,292.4 L611.6,301.6 L618.6,308.5 L627.8,315.5 L634.7,317.8 L639.4,315.5 L646.3,320.1 L649.7,325.9 L641.7,329.3 L646.3,331.6 L657.8,330.5 L662.8,333.2 L667.7,339.8 L676.0,344.8 L686.0,346.5 L696.0,343.2 L700.9,338.2" fill="none" stroke="#d4ded4" stroke-width="1" stroke-linejoin="round"/>
<path d="M611.6,301.6 L604.7,292.4 L597.8,286.6 L590.9,284.3 L583.9,286.6 L577.0,288.9 L572.4,293.5 L568.9,298.2 L558.5,300.5 L556.2,306.2 L555.1,315.5 L549.3,318.9 L542.4,317.8 L538.9,310.9 L536.6,303.9 L535.4,297.0 L529.7,290.1 L525.0,283.1 L521.6,276.2 L522.7,267.0 L520.4,257.7 L518.1,249.7 L515.8,248.5 L520.4,243.9 L526.2,240.4 L533.1,237.0" fill="none" stroke="#d4ded4" stroke-width="1" stroke-linejoin="round"/>
<path d="M542.4,317.8 L537.7,322.4 L528.5,324.7 L519.3,325.9 L512.3,324.7 L510.0,329.3 L503.1,333.9 L498.5,336.3" fill="none" stroke="#d4ded4" stroke-width="1" stroke-linejoin="round"/>
<path d="M542.4,317.8 L540.0,329.3 L544.7,338.6 L548.1,347.8 L550.6,362.9 L555.6,374.5" fill="none" stroke="#d4ded4" stroke-width="1" stroke-linejoin="round"/>
<path d="M662.8,333.2 L669.4,323.2 L676.0,313.3 L686.0,306.6 L691.0,300.0 L698.0,292.0 L706.0,286.0 L716.0,281.0 L726.0,279.0" fill="none" stroke="#d4ded4" stroke-width="1" stroke-linejoin="round"/>
<path d="M642.8,329.9 L641.2,343.2 L632.9,353.1 L627.9,363.1 L626.2,371.4 L636.2,374.7 L644.5,378.0 L646.2,389.6 L641.2,397.9 L647.8,402.9 L656.1,406.2 L659.4,416.2 L666.1,417.9 L674.4,417.9 L682.7,411.2 L692.6,407.9 L704.3,406.9 L715.9,407.9" fill="none" stroke="#d4ded4" stroke-width="1" stroke-linejoin="round"/>
<path d="M626.2,371.4 L616.3,376.4 L606.3,381.3 L596.4,376.4 L586.4,381.3 L578.1,383.0 L569.8,379.7 L559.8,378.0 L556.5,369.7" fill="none" stroke="#d4ded4" stroke-width="1" stroke-linejoin="round"/>
<path d="M659.4,416.2 L652.8,426.2 L651.1,439.4 L656.1,452.7 L659.4,466.0 L666.1,476.0 L671.1,485.9 L672.7,494.2" fill="none" stroke="#d4ded4" stroke-width="1" stroke-linejoin="round"/>
<path d="M656.1,406.2 L647.8,421.2 L634.5,419.5 L629.6,429.5 L627.9,442.8 L616.3,446.1 L608.0,449.4 L599.7,451.1 L589.7,457.7 L583.1,466.0 L579.8,472.6 L586.4,477.6 L596.4,479.3 L601.3,489.2 L604.7,499.2 L611.3,507.5 L619.6,512.5" fill="none" stroke="#d4ded4" stroke-width="1" stroke-linejoin="round"/>
<path d="M578.1,383.0 L573.1,396.3 L561.5,406.2 L554.9,416.2 L558.2,427.8 L559.8,434.5 L569.8,437.8 L574.8,446.1 L573.1,456.0 L566.5,462.7 L559.8,469.3 L553.2,479.3 L549.9,489.2 L548.2,499.2" fill="none" stroke="#d4ded4" stroke-width="1" stroke-linejoin="round"/>
<path d="M579.8,472.6 L574.8,480.9 L569.8,492.6 L564.8,505.8 L563.2,515.8 L566.5,525.8 L572.0,540.0 L578.0,553.0" fill="none" stroke="#d4ded4" stroke-width="1" stroke-linejoin="round"/>
<path d="M586.4,477.6 L583.1,489.2 L578.1,499.2 L573.1,509.2 L566.5,519.1" fill="none" stroke="#d4ded4" stroke-width="1" stroke-linejoin="round"/>
<path d="M420.9,203.8 L424.2,214.6 L423.1,223.3 L425.2,234.1 L424.2,242.8 L416.6,244.9 L406.8,242.8 L394.9,244.9 L386.3,242.8 L377.6,238.4 L371.1,234.1" fill="none" stroke="#d4ded4" stroke-width="1" stroke-linejoin="round"/>
<path d="M424.2,242.8 L431.7,247.1 L433.9,253.6 L431.7,257.9 L438.2,253.6 L442.6,249.3 L451.2,247.1 L459.9,240.6 L468.5,232.0 L477.2,225.5 L488.0,222.2 L498.8,221.1 L507.5,225.5 L516.1,220.0 L522.6,221.1 L530.0,229.8" fill="none" stroke="#d4ded4" stroke-width="1" stroke-linejoin="round"/>
<path d="M431.7,257.9 L425.2,266.6 L418.7,275.2 L414.4,283.9 L410.1,292.6 L405.8,301.2 L401.4,307.7 L394.9,305.5 L387.4,307.7 L386.3,312.0 L378.0,318.0 L368.0,322.0 L356.0,320.0 L346.0,324.0 L338.0,326.0" fill="none" stroke="#d4ded4" stroke-width="1" stroke-linejoin="round"/>
<path d="M459.9,253.6 L464.2,264.4 L470.7,275.2 L479.4,281.7 L481.5,286.1 L485.8,279.6 L494.5,275.2 L505.0,270.0 L514.0,262.0" fill="none" stroke="#d4ded4" stroke-width="1" stroke-linejoin="round"/>
<path d="M479.4,281.7 L477.2,292.6 L472.9,301.2 L468.5,307.7 L472.9,312.0 L481.5,309.9 L492.5,314.7 L505.8,319.7 L512.4,324.7" fill="none" stroke="#d4ded4" stroke-width="1" stroke-linejoin="round"/>
<path d="M316.5,372.8 L323.2,366.2 L333.1,369.5 L339.8,376.2 L341.4,382.8 L353.0,384.5 L363.0,386.1 L368.0,392.8 L379.6,394.4 L392.9,392.8 L401.2,389.4 L406.2,381.1 L412.8,377.8 L419.4,372.8 L429.4,371.2 L439.4,372.8 L442.7,364.5 L449.3,362.9 L454.3,367.9 L460.9,361.2 L469.2,364.5 L479.2,366.2 L487.5,361.2 L489.2,367.9 L484.2,374.5 L492.5,377.8 L502.4,381.1 L512.4,379.5 L519.0,374.5 L527.3,371.2 L535.6,369.5 L545.6,372.8 L555.6,374.5 L560.6,377.8" fill="none" stroke="#d4ded4" stroke-width="1" stroke-linejoin="round"/>
<path d="M401.4,307.7 L410.0,314.0 L420.0,312.0 L432.0,316.0 L444.0,312.0 L456.0,314.0 L465.9,311.4 L468.5,307.7" fill="none" stroke="#d4ded4" stroke-width="1" stroke-linejoin="round"/>
<path d="M460.9,361.2 L452.6,379.5 L449.3,386.1 L442.7,396.1 L439.4,406.0 L444.0,418.0 L446.0,429.9 L462.6,436.5 L472.6,443.2 L479.2,453.1 L475.9,466.4 L477.5,483.0 L482.5,496.3 L492.5,509.6 L505.8,502.9 L515.7,499.6 L528.0,496.0 L540.0,492.0 L548.2,499.2" fill="none" stroke="#d4ded4" stroke-width="1" stroke-linejoin="round"/>
<path d="M560.6,377.8 L557.2,389.4 L562.2,402.7 L565.5,416.0 L558.9,426.0 L555.6,435.9" fill="none" stroke="#d4ded4" stroke-width="1" stroke-linejoin="round"/>
<path d="M349.7,466.4 L359.7,463.1 L368.0,471.4 L371.3,479.7 L379.6,471.4 L386.2,466.4 L389.6,458.1 L396.2,456.4 L408.0,450.0 L420.0,446.0 L432.0,440.0 L446.0,429.9" fill="none" stroke="#d4ded4" stroke-width="1" stroke-linejoin="round"/>
<path d="M356.4,483.0 L359.7,499.6 L358.0,516.2 L356.4,532.8 L359.7,546.1 L373.0,547.7 L386.2,549.4 L399.5,542.8 L412.8,539.4 L419.4,546.1 L427.7,539.4 L436.0,529.5 L446.0,524.5 L454.3,521.2 L466.0,517.0 L477.5,512.0 L482.5,496.3" fill="none" stroke="#d4ded4" stroke-width="1" stroke-linejoin="round"/>
<path d="M316.0,452.0 L326.0,458.0 L338.0,462.0 L349.7,466.4 L356.4,483.0" fill="none" stroke="#d4ded4" stroke-width="1" stroke-linejoin="round"/>
<path d="M472.6,532.8 L479.2,542.8 L492.5,549.4 L499.1,557.7" fill="none" stroke="#d4ded4" stroke-width="1" stroke-linejoin="round"/>
<path d="M492.5,509.6 L498.0,520.0 L510.0,528.0 L524.0,532.0 L536.0,540.0 L546.0,548.0 L552.0,558.0" fill="none" stroke="#d4ded4" stroke-width="1" stroke-linejoin="round"/>
<path d="M293.0,73.2 L294.6,89.8 L291.3,106.4 L289.6,123.0 L293.0,139.6 L299.6,146.2" fill="none" stroke="#d4ded4" stroke-width="1" stroke-linejoin="round"/>
<path d="M253.1,129.6 L266.4,126.3 L279.7,133.0 L293.0,139.6 L306.2,149.6 L316.2,156.2 L322.8,166.2 L326.2,179.4 L324.5,186.1" fill="none" stroke="#d4ded4" stroke-width="1" stroke-linejoin="round"/>
<path d="M331.1,73.2 L336.1,89.8 L342.8,106.4 L346.1,119.7 L339.4,133.0 L332.8,146.2 L322.8,156.2 L316.2,156.2" fill="none" stroke="#d4ded4" stroke-width="1" stroke-linejoin="round"/>
<path d="M346.1,119.7 L359.4,119.7 L372.6,118.0 L385.9,114.7 L399.2,116.4 L412.5,111.4 L425.8,109.7 L439.0,106.4 L452.3,104.7 L465.6,103.1 L475.6,106.4 L482.2,111.4 L488.8,106.4 L498.8,104.7 L508.8,108.1 L518.7,109.7 L532.0,111.4 L542.0,116.0 L552.0,118.0 L560.0,124.0 L566.0,132.0 L570.0,140.0 L570.0,155.5" fill="none" stroke="#d4ded4" stroke-width="1" stroke-linejoin="round"/>
<path d="M332.8,146.2 L339.4,159.5 L346.1,169.5 L356.0,172.8 L372.6,174.5 L385.9,176.1 L399.2,179.4 L412.5,182.8 L419.1,186.1 L429.1,186.1" fill="none" stroke="#d4ded4" stroke-width="1" stroke-linejoin="round"/>
<path d="M452.3,104.7 L449.0,119.7 L447.3,136.3 L445.7,152.9 L444.0,166.2 L439.0,172.8 L432.4,176.1 L429.1,186.1 L439.0,196.0 L445.7,202.7 L440.0,210.0 L424.2,214.6" fill="none" stroke="#d4ded4" stroke-width="1" stroke-linejoin="round"/>
<path d="M482.2,111.4 L480.5,126.3 L482.2,139.6 L478.9,152.9 L482.2,166.2 L488.8,179.4 L495.5,186.1 L492.2,196.0 L498.8,202.7 L505.4,206.0 L510.0,214.0 L516.1,220.0" fill="none" stroke="#d4ded4" stroke-width="1" stroke-linejoin="round"/>
<path d="M445.7,202.7 L456.0,206.0 L468.0,204.0 L480.0,208.0 L492.2,196.0" fill="none" stroke="#d4ded4" stroke-width="1" stroke-linejoin="round"/>
</g>
<path d="M246.5,84.8 L258.1,86.5 L271.4,83.2 L274.7,73.2 L281.3,71.5 L287.0,63.2 L296.3,59.9 L299.6,63.2 L307.9,57.3 L316.2,63.2 L323.5,68.2 L331.1,74.2 L342.8,74.9 L356.0,76.5 L372.6,77.2 L385.9,77.2 L392.6,74.9 L400.9,71.5 L407.5,76.5 L419.1,79.2 L432.4,83.2 L445.7,86.5 L462.3,89.8 L475.6,91.5 L492.2,89.8 L505.4,85.8 L518.7,83.8 L527.0,89.8 L535.0,91.9 L546.3,95.6 L557.5,94.5 L572.5,97.5 L587.5,97.5 L600.6,95.6 L608.1,93.0 L618.3,97.5 L626.9,101.3 L628.8,110.6 L632.5,114.4 L643.8,118.1 L660.7,121.9 L668.2,129.4 L681.3,129.4 L692.5,136.9 L707.5,135.0 L725.8,136.0 L733.4,135.5 L734.5,127.4 L745.0,126.8 L760.0,127.5 L770.5,136.9 L775.0,147.5 L777.5,153.8 L783.8,152.2 L788.6,147.5 L798.0,147.5 L803.7,149.8 L805.2,156.2 L810.8,153.8 L818.7,152.2 L826.7,153.8 L834.6,155.4 L839.4,153.8 L844.1,149.0 L852.1,145.9 L861.6,145.9 L866.3,149.0 L867.9,153.8 L873.5,154.6 L872.7,159.4 L866.3,159.4 L865.6,166.5 L869.5,172.9 L871.1,180.8 L867.9,188.7 L861.6,193.5 L853.7,199.8 L845.7,204.6 L837.8,209.4 L829.8,215.7 L823.5,222.1 L818.7,228.4 L810.8,233.2 L801.3,236.3 L791.7,240.0 L782.5,243.8 L767.5,249.4 L756.3,258.8 L748.8,264.4 L741.3,266.3 L752.5,275.7 L745.0,281.3 L737.5,285.0 L733.8,292.5 L727.5,300.0 L719.2,313.3 L712.6,323.2 L705.9,333.2 L699.3,343.2 L694.3,354.8 L691.0,366.4 L694.3,379.7 L699.3,389.6 L705.9,399.6 L715.9,406.9 L722.5,412.9 L719.2,419.5 L709.2,426.2 L700.9,432.8 L692.6,439.4 L686.0,446.1 L682.7,454.4 L679.4,466.0 L674.4,476.0 L671.1,485.9 L672.7,492.6 L671.1,496.5 L662.8,499.2 L654.5,500.9 L647.8,501.9 L639.5,502.5 L632.9,507.5 L626.2,514.1 L619.6,520.8 L614.6,530.0 L612.0,539.4 L607.0,547.7 L600.4,556.0 L593.7,560.0 L587.1,554.4 L578.8,552.7 L570.5,556.0 L563.9,562.7 L555.6,561.0 L545.6,558.7 L535.6,559.4 L525.7,562.0 L517.4,560.0 L509.1,559.4 L499.1,558.7 L490.8,559.4 L482.5,558.7 L474.2,560.0 L465.9,562.7 L459.3,567.7 L452.6,572.6 L442.7,575.3 L434.4,579.3 L427.7,582.6 L421.1,585.9 L416.1,590.9 L412.8,595.9 L412.1,602.5 L407.8,598.5 L404.5,604.2 L399.5,608.5 L394.5,605.8 L387.9,602.5 L381.3,597.5 L374.6,594.2 L369.6,587.6 L364.7,581.0 L361.3,572.6 L358.0,569.3 L354.7,562.7 L352.4,557.7 L355.7,553.4 L351.4,549.4 L346.4,542.8 L341.4,534.5 L334.8,527.8 L326.5,524.5 L316.5,523.5 L306.6,522.2 L298.3,521.2 L295.9,509.6 L293.9,497.9 L297.3,489.6 L301.6,483.0 L306.6,476.4 L311.5,469.1 L319.8,465.8 L324.8,459.2 L323.2,452.5 L316.5,447.5 L311.5,439.2 L308.2,430.9 L311.5,422.6 L314.9,414.3 L321.5,407.7 L326.5,401.1 L329.8,392.8 L326.5,387.8 L319.8,386.1 L318.2,377.8 L314.9,371.2 L311.5,362.9 L306.6,356.2 L299.9,347.9 L313.2,347.3 L328.1,346.3 L329.8,339.6 L334.8,334.7 L338.1,326.4 L333.1,319.7 L329.8,311.4 L334.8,308.1 L341.4,303.1 L339.8,293.2 L341.4,281.5 L343.1,270.0 L341.1,262.4 L337.8,254.1 L346.1,247.5 L351.1,240.9 L359.4,235.9 L367.7,229.2 L372.6,220.9 L374.3,212.6 L366.0,209.3 L358.7,206.0 L360.0,196.0 L357.7,187.7 L349.4,188.7 L339.4,186.1 L327.8,187.7 L322.8,191.1 L314.5,195.4 L306.2,192.7 L299.6,189.4 L295.0,193.2 L291.2,191.6 L289.6,188.4 L288.8,192.4 L283.3,193.2 L277.7,194.0 L275.3,191.6 L273.7,186.8 L276.1,183.7 L280.1,181.3 L279.3,178.1 L275.3,175.7 L274.5,171.0 L271.3,172.5 L267.4,174.9 L260.2,176.5 L253.9,178.1 L248.3,181.3 L242.8,184.4 L238.8,187.6 L238.5,185.2 L238.8,178.9 L238.8,172.5 L240.4,168.6 L243.6,166.2 L246.7,164.6 L250.7,161.4 L253.9,158.3 L253.9,155.1 L251.5,157.5 L248.3,159.8 L244.4,163.0 L241.2,165.4 L241.2,160.6 L243.6,159.0 L246.0,156.7 L244.4,155.1 L248.3,153.5 L252.3,151.9 L252.3,149.5 L249.1,150.3 L244.4,151.1 L241.2,148.7 L238.0,147.1 L240.4,144.0 L244.4,140.8 L242.0,139.2 L245.2,136.0 L249.1,133.7 L248.3,132.1 L242.8,133.7 L238.8,137.6 L237.2,142.4 L233.3,145.6 L234.0,142.4 L232.5,139.2 L230.9,136.0 L234.0,131.3 L235.6,128.1 L238.8,125.7 L242.8,122.5 L240.4,121.7 L235.6,124.1 L232.5,122.5 L229.3,121.0 L230.1,117.8 L228.5,113.8 L225.3,116.2 L222.1,113.8 L222.9,110.6 L222.1,106.7 L223.7,101.9 L227.7,98.7 L230.9,94.8 L237.2,93.2 L241.2,90.0Z" fill="none" stroke="#000" stroke-width="1.6" stroke-linejoin="round"/>
<clipPath id="mall"><path d="M833.4,351.3 L839.1,347.5 L844.7,342.8 L849.4,339.1 L853.1,334.9 L857.8,331.1 L863.5,327.8 L869.1,325.5 L873.8,323.1 L879.4,321.7 L880.3,323.1 L875.7,325.5 L879.4,327.4 L876.6,330.2 L877.5,334.4 L882.2,336.7 L886.0,336.3 L889.7,333.5 L894.4,335.3 L896.3,337.7 L894.9,341.9 L892.5,345.6 L890.7,349.4 L887.9,353.2 L886.0,358.8 L883.2,363.5 L879.4,367.2 L876.1,371.0 L873.3,368.6 L871.4,365.3 L866.3,363.9 L861.6,364.4 L857.8,361.6 L857.4,356.9 L855.0,353.2 L852.2,352.2 L848.5,354.1 L846.1,356.9 L845.2,359.2 L841.9,356.4 L838.1,354.1 L835.3,353.2Z"/></clipPath>
<g clip-path="url(#mall)">
<path d="M833.4,351.3 L839.1,347.5 L844.7,342.8 L849.4,339.1 L853.1,334.9 L857.8,331.1 L863.5,327.8 L869.1,325.5 L873.8,323.1 L879.4,321.7 L880.3,323.1 L875.7,325.5 L879.4,327.4 L876.6,330.2 L877.5,334.4 L882.2,336.7 L886.0,336.3 L889.7,333.5 L894.4,335.3 L896.3,337.7 L894.9,341.9 L892.5,345.6 L890.7,349.4 L887.9,353.2 L886.0,358.8 L883.2,363.5 L879.4,367.2 L876.1,371.0 L873.3,368.6 L871.4,365.3 L866.3,363.9 L861.6,364.4 L857.8,361.6 L857.4,356.9 L855.0,353.2 L852.2,352.2 L848.5,354.1 L846.1,356.9 L845.2,359.2 L841.9,356.4 L838.1,354.1 L835.3,353.2Z" fill="#FFFF99"/>
<path d="M830.0,340.0 C833.7,336.7 847.7,337.2 852.0,338.0 C856.3,338.8 856.0,342.3 856.0,345.0 C856.0,347.7 853.8,351.2 852.0,354.0 C850.2,356.8 848.7,361.3 845.0,362.0 C841.3,362.7 832.5,361.7 830.0,358.0 C827.5,354.3 826.3,343.3 830.0,340.0Z" fill="#CCFFCC"/>
<path d="M874.7,322.0 L874.7,328.8 L865.3,366.3 L864.0,376.0 L900.0,376.0 L900.0,322.0Z" fill="#CCFFCC"/>
<path d="M878.5,330.0 L878.5,336.3 L871.0,366.3 L870.0,376.0 L900.0,376.0 L900.0,330.0Z" fill="#99FF99"/>
<path d="M881.8,330.0 L881.8,337.2 L877.5,362.5 L876.0,376.0 L900.0,376.0 L900.0,330.0Z" fill="#99FF00"/>
<path d="M885.0,330.0 L885.0,337.2 L882.2,355.0 L880.0,376.0 L900.0,376.0 L900.0,330.0Z" fill="#33CC66"/>
<path d="M887.9,330.0 L887.9,335.3 L886.0,351.3 L884.0,370.0 L900.0,370.0 L900.0,330.0Z" fill="#339966"/>
<path d="M851.5,341.0 C851.7,338.9 853.4,335.7 855.0,334.0 C856.6,332.3 859.0,331.1 861.0,331.0 C863.0,330.9 865.7,332.0 867.0,333.5 C868.3,335.0 869.2,337.8 869.0,340.0 C868.8,342.2 867.5,345.1 866.0,346.5 C864.5,347.9 862.0,348.5 860.0,348.5 C858.0,348.5 855.4,347.8 854.0,346.5 C852.6,345.2 851.3,343.1 851.5,341.0Z" fill="#FFCC00"/>
<path d="M856.0,340.0 C856.2,338.8 857.8,336.7 859.0,336.0 C860.2,335.3 862.1,335.3 863.0,336.0 C863.9,336.7 864.7,338.8 864.5,340.0 C864.3,341.2 863.1,342.9 862.0,343.5 C860.9,344.1 859.0,344.1 858.0,343.5 C857.0,342.9 855.8,341.2 856.0,340.0Z" fill="#FF9933"/>
</g>
<path d="M833.4,351.3 L839.1,347.5 L844.7,342.8 L849.4,339.1 L853.1,334.9 L857.8,331.1 L863.5,327.8 L869.1,325.5 L873.8,323.1 L879.4,321.7 L880.3,323.1 L875.7,325.5 L879.4,327.4 L876.6,330.2 L877.5,334.4 L882.2,336.7 L886.0,336.3 L889.7,333.5 L894.4,335.3 L896.3,337.7 L894.9,341.9 L892.5,345.6 L890.7,349.4 L887.9,353.2 L886.0,358.8 L883.2,363.5 L879.4,367.2 L876.1,371.0 L873.3,368.6 L871.4,365.3 L866.3,363.9 L861.6,364.4 L857.8,361.6 L857.4,356.9 L855.0,353.2 L852.2,352.2 L848.5,354.1 L846.1,356.9 L845.2,359.2 L841.9,356.4 L838.1,354.1 L835.3,353.2Z" fill="none" stroke="#000" stroke-width="1.2" stroke-linejoin="round"/>
<clipPath id="meno"><path d="M911.3,315.6 L912.4,313.0 L915.0,311.8 L919.1,311.3 L923.1,311.3 L925.4,310.7 L927.1,308.4 L928.3,310.7 L930.6,310.1 L932.9,312.4 L935.8,314.1 L938.1,316.7 L939.8,319.6 L941.3,322.2 L940.4,324.8 L940.7,328.3 L938.1,327.1 L935.2,326.8 L932.9,324.8 L930.0,323.7 L927.1,321.7 L924.2,320.2 L921.4,319.9 L917.9,320.5 L913.9,321.4 L913.3,319.1 L914.1,317.3 L912.1,316.7Z"/></clipPath>
<g clip-path="url(#meno)">
<path d="M911.3,315.6 L912.4,313.0 L915.0,311.8 L919.1,311.3 L923.1,311.3 L925.4,310.7 L927.1,308.4 L928.3,310.7 L930.6,310.1 L932.9,312.4 L935.8,314.1 L938.1,316.7 L939.8,319.6 L941.3,322.2 L940.4,324.8 L940.7,328.3 L938.1,327.1 L935.2,326.8 L932.9,324.8 L930.0,323.7 L927.1,321.7 L924.2,320.2 L921.4,319.9 L917.9,320.5 L913.9,321.4 L913.3,319.1 L914.1,317.3 L912.1,316.7Z" fill="#99FF99"/>
<path d="M924.8,305.0 L926.5,325.0 L945.0,332.0 L945.0,305.0Z" fill="#CCFFCC"/>
<path d="M928.9,305.0 L931.0,326.0 L945.0,332.0 L945.0,305.0Z" fill="#FFFF99"/>
<path d="M934.0,312.0 L933.2,326.0 L945.0,332.0 L945.0,312.0Z" fill="#FFCC00"/>
<path d="M938.0,314.0 L936.5,330.0 L945.0,332.0 L945.0,314.0Z" fill="#FF9933"/>
</g>
<path d="M911.3,315.6 L912.4,313.0 L915.0,311.8 L919.1,311.3 L923.1,311.3 L925.4,310.7 L927.1,308.4 L928.3,310.7 L930.6,310.1 L932.9,312.4 L935.8,314.1 L938.1,316.7 L939.8,319.6 L941.3,322.2 L940.4,324.8 L940.7,328.3 L938.1,327.1 L935.2,326.8 L932.9,324.8 L930.0,323.7 L927.1,321.7 L924.2,320.2 L921.4,319.9 L917.9,320.5 L913.9,321.4 L913.3,319.1 L914.1,317.3 L912.1,316.7Z" fill="none" stroke="#000" stroke-width="1.2" stroke-linejoin="round"/>
<clipPath id="ibiz"><path d="M775.7,396.4 L779.7,394.8 L782.1,390.9 L785.6,388.9 L789.6,386.9 L793.6,386.5 L796.7,387.7 L797.5,390.9 L799.5,391.7 L797.1,392.9 L796.3,395.2 L794.0,398.0 L791.2,400.4 L788.0,402.4 L785.6,404.8 L783.7,405.6 L780.9,404.0 L778.1,404.4 L775.7,405.2 L776.5,401.2 L776.9,398.8Z"/></clipPath>
<g clip-path="url(#ibiz)">
<path d="M775.7,396.4 L779.7,394.8 L782.1,390.9 L785.6,388.9 L789.6,386.9 L793.6,386.5 L796.7,387.7 L797.5,390.9 L799.5,391.7 L797.1,392.9 L796.3,395.2 L794.0,398.0 L791.2,400.4 L788.0,402.4 L785.6,404.8 L783.7,405.6 L780.9,404.0 L778.1,404.4 L775.7,405.2 L776.5,401.2 L776.9,398.8Z" fill="#FF9933"/>
<path d="M774.0,396.0 C775.2,393.8 779.0,393.2 781.0,393.0 C783.0,392.8 785.3,393.7 786.0,395.0 C786.7,396.3 785.8,399.2 785.0,401.0 C784.2,402.8 782.8,405.2 781.0,406.0 C779.2,406.8 775.2,407.7 774.0,406.0 C772.8,404.3 772.8,398.2 774.0,396.0Z" fill="#FFAA22"/>
</g>
<path d="M775.7,396.4 L779.7,394.8 L782.1,390.9 L785.6,388.9 L789.6,386.9 L793.6,386.5 L796.7,387.7 L797.5,390.9 L799.5,391.7 L797.1,392.9 L796.3,395.2 L794.0,398.0 L791.2,400.4 L788.0,402.4 L785.6,404.8 L783.7,405.6 L780.9,404.0 L778.1,404.4 L775.7,405.2 L776.5,401.2 L776.9,398.8Z" fill="none" stroke="#000" stroke-width="1.2" stroke-linejoin="round"/>
<clipPath id="form"><path d="M786.4,413.5 L788.8,413.9 L791.2,416.3 L794.0,417.0 L797.5,416.3 L796.7,418.3 L794.4,418.7 L791.0,417.8 L786.4,420.2Z"/></clipPath>
<g clip-path="url(#form)">
<path d="M786.4,413.5 L788.8,413.9 L791.2,416.3 L794.0,417.0 L797.5,416.3 L796.7,418.3 L794.4,418.7 L791.0,417.8 L786.4,420.2Z" fill="#FFCC88"/>
</g>
<path d="M786.4,413.5 L788.8,413.9 L791.2,416.3 L794.0,417.0 L797.5,416.3 L796.7,418.3 L794.4,418.7 L791.0,417.8 L786.4,420.2Z" fill="none" stroke="#000" stroke-width="1.2" stroke-linejoin="round"/>
<clipPath id="palma"><path d="M14.1,609.3 L18.6,604.1 L24.5,605.6 L29.0,607.1 L30.5,613.8 L29.7,619.7 L27.5,625.7 L25.3,630.1 L22.3,632.4 L20.8,627.2 L18.6,621.2 L15.6,614.5Z"/></clipPath>
<g clip-path="url(#palma)">
<path d="M14.1,609.3 L18.6,604.1 L24.5,605.6 L29.0,607.1 L30.5,613.8 L29.7,619.7 L27.5,625.7 L25.3,630.1 L22.3,632.4 L20.8,627.2 L18.6,621.2 L15.6,614.5Z" fill="#FF6633"/>
<path d="M10.0,600.0 L35.0,600.0 L35.0,617.0 L10.0,615.0Z" fill="#FF9933"/>
<path d="M10.0,600.0 L35.0,600.0 L35.0,614.0 L10.0,612.0Z" fill="#FFCC00"/>
<path d="M10.0,600.0 L35.0,600.0 L35.0,609.5 L22.0,607.0 L10.0,609.0Z" fill="#FFFF99"/>
</g>
<path d="M14.1,609.3 L18.6,604.1 L24.5,605.6 L29.0,607.1 L30.5,613.8 L29.7,619.7 L27.5,625.7 L25.3,630.1 L22.3,632.4 L20.8,627.2 L18.6,621.2 L15.6,614.5Z" fill="none" stroke="#000" stroke-width="1" stroke-linejoin="round"/>
<clipPath id="gomera"><path d="M53.5,655.4 L55.8,651.0 L61.0,650.2 L66.2,652.5 L68.7,656.9 L66.9,661.4 L62.5,663.6 L57.2,662.9 L54.3,659.9Z"/></clipPath>
<g clip-path="url(#gomera)">
<path d="M53.5,655.4 L55.8,651.0 L61.0,650.2 L66.2,652.5 L68.7,656.9 L66.9,661.4 L62.5,663.6 L57.2,662.9 L54.3,659.9Z" fill="#FF9933"/>
</g>
<path d="M53.5,655.4 L55.8,651.0 L61.0,650.2 L66.2,652.5 L68.7,656.9 L66.9,661.4 L62.5,663.6 L57.2,662.9 L54.3,659.9Z" fill="none" stroke="#000" stroke-width="1" stroke-linejoin="round"/>
<clipPath id="hierro"><path d="M2.2,681.4 L5.9,680.0 L10.4,681.4 L13.4,676.2 L18.6,675.5 L19.3,679.2 L15.6,682.9 L13.4,685.9 L12.6,689.3 L9.7,687.4 L6.7,685.2 L3.0,684.4Z"/></clipPath>
<g clip-path="url(#hierro)">
<path d="M2.2,681.4 L5.9,680.0 L10.4,681.4 L13.4,676.2 L18.6,675.5 L19.3,679.2 L15.6,682.9 L13.4,685.9 L12.6,689.3 L9.7,687.4 L6.7,685.2 L3.0,684.4Z" fill="#FFCC00"/>
<path d="M0.0,678.0 L6.5,678.0 L7.0,687.0 L0.0,687.0Z" fill="#FFFFCC"/>
<path d="M13.0,674.0 L21.0,674.0 L21.0,681.0 L15.0,681.0Z" fill="#FF9933"/>
</g>
<path d="M2.2,681.4 L5.9,680.0 L10.4,681.4 L13.4,676.2 L18.6,675.5 L19.3,679.2 L15.6,682.9 L13.4,685.9 L12.6,689.3 L9.7,687.4 L6.7,685.2 L3.0,684.4Z" fill="none" stroke="#000" stroke-width="1" stroke-linejoin="round"/>
<clipPath id="tener"><path d="M79.6,641.1 L84.4,638.7 L91.6,638.7 L98.7,637.5 L105.9,635.7 L110.7,631.6 L114.3,628.0 L117.9,625.6 L122.7,626.2 L127.5,625.0 L129.9,626.8 L128.7,629.8 L125.1,631.6 L121.5,635.1 L117.9,638.7 L114.9,642.3 L113.7,647.1 L111.3,651.9 L108.9,656.7 L104.7,660.3 L101.1,663.9 L96.3,665.1 L93.4,665.7 L91.6,661.5 L88.6,656.7 L86.2,650.7 L83.8,645.9 L81.4,642.9Z"/></clipPath>
<g clip-path="url(#tener)">
<path d="M79.6,641.1 L84.4,638.7 L91.6,638.7 L98.7,637.5 L105.9,635.7 L110.7,631.6 L114.3,628.0 L117.9,625.6 L122.7,626.2 L127.5,625.0 L129.9,626.8 L128.7,629.8 L125.1,631.6 L121.5,635.1 L117.9,638.7 L114.9,642.3 L113.7,647.1 L111.3,651.9 L108.9,656.7 L104.7,660.3 L101.1,663.9 L96.3,665.1 L93.4,665.7 L91.6,661.5 L88.6,656.7 L86.2,650.7 L83.8,645.9 L81.4,642.9Z" fill="#FFCC00"/>
<path d="M117.0,667.0 C117.0,668.7 116.8,670.4 116.3,672.0 C115.9,673.7 115.2,675.3 114.4,676.8 C113.5,678.2 112.5,679.6 111.3,680.8 C110.1,682.0 108.7,683.0 107.2,683.9 C105.8,684.7 104.2,685.4 102.5,685.8 C100.9,686.3 99.2,686.5 97.5,686.5 C95.8,686.5 94.1,686.3 92.5,685.8 C90.8,685.4 89.2,684.7 87.7,683.9 C86.3,683.0 84.9,682.0 83.7,680.8 C82.5,679.6 81.5,678.2 80.6,676.7 C79.8,675.3 79.1,673.7 78.7,672.0 C78.2,670.4 78.0,668.7 78.0,667.0 C78.0,665.3 78.2,663.6 78.7,662.0 C79.1,660.3 79.8,658.7 80.6,657.2 C81.5,655.8 82.5,654.4 83.7,653.2 C84.9,652.0 86.3,651.0 87.8,650.1 C89.2,649.3 90.8,648.6 92.5,648.2 C94.1,647.7 95.8,647.5 97.5,647.5 C99.2,647.5 100.9,647.7 102.5,648.2 C104.2,648.6 105.8,649.3 107.3,650.1 C108.7,651.0 110.1,652.0 111.3,653.2 C112.5,654.4 113.5,655.8 114.4,657.3 C115.2,658.7 115.9,660.3 116.3,662.0 C116.8,663.6 117.0,665.3 117.0,667.0Z" fill="#FF9933"/>
<path d="M108.5,667.0 C108.5,667.9 108.4,668.9 108.1,669.8 C107.9,670.8 107.5,671.7 107.0,672.5 C106.6,673.3 105.9,674.1 105.3,674.8 C104.6,675.4 103.8,676.1 103.0,676.5 C102.2,677.0 101.3,677.4 100.3,677.6 C99.4,677.9 98.4,678.0 97.5,678.0 C96.6,678.0 95.6,677.9 94.7,677.6 C93.7,677.4 92.8,677.0 92.0,676.5 C91.2,676.1 90.4,675.4 89.7,674.8 C89.1,674.1 88.4,673.3 88.0,672.5 C87.5,671.7 87.1,670.8 86.9,669.8 C86.6,668.9 86.5,667.9 86.5,667.0 C86.5,666.1 86.6,665.1 86.9,664.2 C87.1,663.2 87.5,662.3 88.0,661.5 C88.4,660.7 89.1,659.9 89.7,659.2 C90.4,658.6 91.2,657.9 92.0,657.5 C92.8,657.0 93.7,656.6 94.7,656.4 C95.6,656.1 96.6,656.0 97.5,656.0 C98.4,656.0 99.4,656.1 100.3,656.4 C101.3,656.6 102.2,657.0 103.0,657.5 C103.8,657.9 104.6,658.6 105.3,659.2 C105.9,659.9 106.6,660.7 107.0,661.5 C107.5,662.3 107.9,663.2 108.1,664.2 C108.4,665.1 108.5,666.1 108.5,667.0Z" fill="#FF6633"/>
<path d="M98.0,637.0 L109.0,658.0 L135.0,658.0 L135.0,620.0 L98.0,620.0Z" fill="#FFFF99"/>
<path d="M104.2,637.0 L112.5,651.0 L135.0,651.0 L135.0,620.0 L104.2,620.0Z" fill="#CCFFCC"/>
<path d="M107.5,634.0 L115.5,645.0 L135.0,645.0 L135.0,620.0 L107.5,620.0Z" fill="#99FF99"/>
<path d="M109.5,631.0 L119.5,640.0 L135.0,640.0 L135.0,620.0 L109.5,620.0Z" fill="#99FF00"/>
<path d="M110.5,630.0 L117.0,633.0 L122.0,630.0 L126.0,624.0 L110.0,622.0Z" fill="#33CC66"/>
<path d="M113.5,628.0 L118.0,629.5 L121.0,627.5 L121.0,624.0 L114.0,624.0Z" fill="#339966"/>
</g>
<path d="M79.6,641.1 L84.4,638.7 L91.6,638.7 L98.7,637.5 L105.9,635.7 L110.7,631.6 L114.3,628.0 L117.9,625.6 L122.7,626.2 L127.5,625.0 L129.9,626.8 L128.7,629.8 L125.1,631.6 L121.5,635.1 L117.9,638.7 L114.9,642.3 L113.7,647.1 L111.3,651.9 L108.9,656.7 L104.7,660.3 L101.1,663.9 L96.3,665.1 L93.4,665.7 L91.6,661.5 L88.6,656.7 L86.2,650.7 L83.8,645.9 L81.4,642.9Z" fill="none" stroke="#000" stroke-width="1" stroke-linejoin="round"/>
<clipPath id="gcan"><path d="M147.2,666.3 L149.0,662.7 L152.6,660.3 L154.4,656.1 L157.4,654.9 L161.0,656.1 L164.6,655.5 L168.2,656.7 L171.2,656.1 L171.8,653.7 L173.2,654.3 L173.2,657.9 L174.8,662.7 L176.0,667.5 L176.6,671.1 L174.8,675.3 L171.8,679.5 L167.0,682.5 L162.2,684.9 L157.4,683.7 L153.2,680.7 L149.6,676.5 L147.8,671.7Z"/></clipPath>
<g clip-path="url(#gcan)">
<path d="M147.2,666.3 L149.0,662.7 L152.6,660.3 L154.4,656.1 L157.4,654.9 L161.0,656.1 L164.6,655.5 L168.2,656.7 L171.2,656.1 L171.8,653.7 L173.2,654.3 L173.2,657.9 L174.8,662.7 L176.0,667.5 L176.6,671.1 L174.8,675.3 L171.8,679.5 L167.0,682.5 L162.2,684.9 L157.4,683.7 L153.2,680.7 L149.6,676.5 L147.8,671.7Z" fill="#CCFFCC"/>
<path d="M153.8,650.0 L153.8,656.1 L157.4,669.9 L160.0,690.0 L180.0,690.0 L180.0,650.0Z" fill="#99FF99"/>
<path d="M156.8,650.0 L156.8,655.5 L161.6,667.5 L164.0,690.0 L180.0,690.0 L180.0,650.0Z" fill="#99FF00"/>
<path d="M163.4,650.0 L163.4,655.5 L168.2,668.7 L170.0,690.0 L180.0,690.0 L180.0,650.0Z" fill="#33CC66"/>
<path d="M167.6,650.0 L167.6,656.1 L174.2,669.9 L176.0,690.0 L180.0,690.0 L180.0,650.0Z" fill="#339966"/>
<path d="M161.6,665.8 L181.6,675.8 L185.0,700.0 L140.0,700.0 L141.6,681.3Z" fill="#FFFF99"/>
<path d="M161.6,667.8 L181.6,677.8 L185.0,700.0 L140.0,700.0 L141.6,683.3Z" fill="#FFCC00"/>
<path d="M161.6,669.3 L181.6,679.3 L185.0,700.0 L140.0,700.0 L141.6,684.8Z" fill="#FF9933"/>
<path d="M161.6,672.8 L181.6,682.8 L185.0,700.0 L140.0,700.0 L141.6,688.3Z" fill="#FF6633"/>
</g>
<path d="M147.2,666.3 L149.0,662.7 L152.6,660.3 L154.4,656.1 L157.4,654.9 L161.0,656.1 L164.6,655.5 L168.2,656.7 L171.2,656.1 L171.8,653.7 L173.2,654.3 L173.2,657.9 L174.8,662.7 L176.0,667.5 L176.6,671.1 L174.8,675.3 L171.8,679.5 L167.0,682.5 L162.2,684.9 L157.4,683.7 L153.2,680.7 L149.6,676.5 L147.8,671.7Z" fill="none" stroke="#000" stroke-width="1" stroke-linejoin="round"/>
<clipPath id="lanz"><path d="M267.6,605.2 L270.2,598.3 L273.6,593.1 L280.6,588.7 L287.5,586.1 L290.9,583.5 L290.1,579.2 L293.5,579.2 L295.3,583.5 L294.7,589.6 L292.7,595.7 L288.3,599.1 L282.3,601.7 L276.2,603.4 L273.6,606.0 L270.2,606.6Z"/></clipPath>
<g clip-path="url(#lanz)">
<path d="M267.6,605.2 L270.2,598.3 L273.6,593.1 L280.6,588.7 L287.5,586.1 L290.9,583.5 L290.1,579.2 L293.5,579.2 L295.3,583.5 L294.7,589.6 L292.7,595.7 L288.3,599.1 L282.3,601.7 L276.2,603.4 L273.6,606.0 L270.2,606.6Z" fill="#FFEE99"/>
<path d="M260.0,585.0 L279.0,585.0 L281.0,605.0 L260.0,610.0Z" fill="#CCFFCC"/>
<path d="M260.0,590.0 L274.0,593.0 L275.0,610.0 L260.0,610.0Z" fill="#99FF99"/>
</g>
<path d="M267.6,605.2 L270.2,598.3 L273.6,593.1 L280.6,588.7 L287.5,586.1 L290.9,583.5 L290.1,579.2 L293.5,579.2 L295.3,583.5 L294.7,589.6 L292.7,595.7 L288.3,599.1 L282.3,601.7 L276.2,603.4 L273.6,606.0 L270.2,606.6Z" fill="none" stroke="#000" stroke-width="1" stroke-linejoin="round"/>
<clipPath id="fuer"><path d="M229.5,658.8 L235.6,659.7 L240.8,657.1 L246.0,651.9 L248.5,645.0 L251.1,636.3 L255.5,629.4 L258.1,622.5 L260.7,616.4 L265.8,613.5 L270.2,613.8 L271.6,619.9 L271.9,625.9 L270.2,632.9 L268.4,639.8 L266.7,645.8 L263.3,650.2 L256.3,652.8 L249.4,654.5 L244.2,658.8 L240.8,663.1 L236.4,661.9 L230.4,660.9Z"/></clipPath>
<g clip-path="url(#fuer)">
<path d="M229.5,658.8 L235.6,659.7 L240.8,657.1 L246.0,651.9 L248.5,645.0 L251.1,636.3 L255.5,629.4 L258.1,622.5 L260.7,616.4 L265.8,613.5 L270.2,613.8 L271.6,619.9 L271.9,625.9 L270.2,632.9 L268.4,639.8 L266.7,645.8 L263.3,650.2 L256.3,652.8 L249.4,654.5 L244.2,658.8 L240.8,663.1 L236.4,661.9 L230.4,660.9Z" fill="#99FF99"/>
<path d="M258.0,610.0 C260.0,608.2 271.5,608.2 274.0,610.0 C276.5,611.8 275.0,619.2 273.0,621.0 C271.0,622.8 264.5,622.8 262.0,621.0 C259.5,619.2 256.0,611.8 258.0,610.0Z" fill="#88EE44"/>
<path d="M265.0,625.0 C266.8,622.5 272.0,621.7 273.0,625.0 C274.0,628.3 272.5,640.8 271.0,645.0 C269.5,649.2 265.5,650.8 264.0,650.0 C262.5,649.2 261.8,644.2 262.0,640.0 C262.2,635.8 263.2,627.5 265.0,625.0Z" fill="#CCFFCC"/>
</g>
<path d="M229.5,658.8 L235.6,659.7 L240.8,657.1 L246.0,651.9 L248.5,645.0 L251.1,636.3 L255.5,629.4 L258.1,622.5 L260.7,616.4 L265.8,613.5 L270.2,613.8 L271.6,619.9 L271.9,625.9 L270.2,632.9 L268.4,639.8 L266.7,645.8 L263.3,650.2 L256.3,652.8 L249.4,654.5 L244.2,658.8 L240.8,663.1 L236.4,661.9 L230.4,660.9Z" fill="none" stroke="#000" stroke-width="1" stroke-linejoin="round"/>
<path d="M0,548.5 H311.5 V692" fill="none" stroke="#5f9a9a" stroke-width="1"/>
<path d="M786.4,405.2 L788,410 L788.8,413.5" fill="none" stroke="#000" stroke-width="1.2"/>
<path d="M406.2,614 L414.3,614.3 L411.4,620.5Z" fill="#558877" stroke="#446655" stroke-width="0.8"/>
<rect x="545.2" y="658.3" width="3.5" height="6" fill="#FF9977" stroke="#000" stroke-width="1"/>
<rect x="543.5" y="614.7" width="1.5" height="1.2" fill="#223"/>
<circle cx="289.7" cy="567.6" r="1.2" fill="none" stroke="#333" stroke-width="0.7"/>
<circle cx="271.2" cy="613.3" r="1" fill="none" stroke="#333" stroke-width="0.7"/>
<path d="M289,574 l1.5,3 l2,-2 l0.5,4" fill="none" stroke="#000" stroke-width="1"/>
<rect x="868.7" y="377" width="2.2" height="3" fill="#000"/>
</svg></div>
<div class="box" id="legend"></div>
<div class="sw" style="top:167px;height:39px;background:#006633;"></div>
<div class="sw" style="top:206px;height:38px;background:#339966;"></div>
<div class="sw" style="top:244px;height:39px;background:#33CC66;"></div>
<div class="sw" style="top:283px;height:39px;background:#99FF00;"></div>
<div class="sw" style="top:322px;height:38px;background:#99FF99;"></div>
<div class="sw" style="top:360px;height:39px;background:#CCFFCC;"></div>
<div class="sw" style="top:399px;height:39px;background:#FFFF99;"></div>
<div class="sw" style="top:438px;height:39px;background:#FFCC00;"></div>
<div class="sw" style="top:477px;height:38px;background:#FF9933;"></div>
<div class="sw" style="top:515px;height:40px;background:#FF6633;border-bottom:1px solid #222;"></div>
<div class="lab" style="top:195.9px">300</div>
<div class="lab" style="top:234.6px">200</div>
<div class="lab" style="top:273.3px">175</div>
<div class="lab" style="top:312.0px">150</div>
<div class="lab" style="top:350.7px">125</div>
<div class="lab" style="top:389.4px">100</div>
<div class="lab" style="top:428.1px">75</div>
<div class="lab" style="top:466.8px">50</div>
<div class="lab" style="top:505.5px">25</div>
<div class="lab" style="top:544.2px">0</div>
<div id="pct">(%)</div><div id="num">521</div>
</body></html>
